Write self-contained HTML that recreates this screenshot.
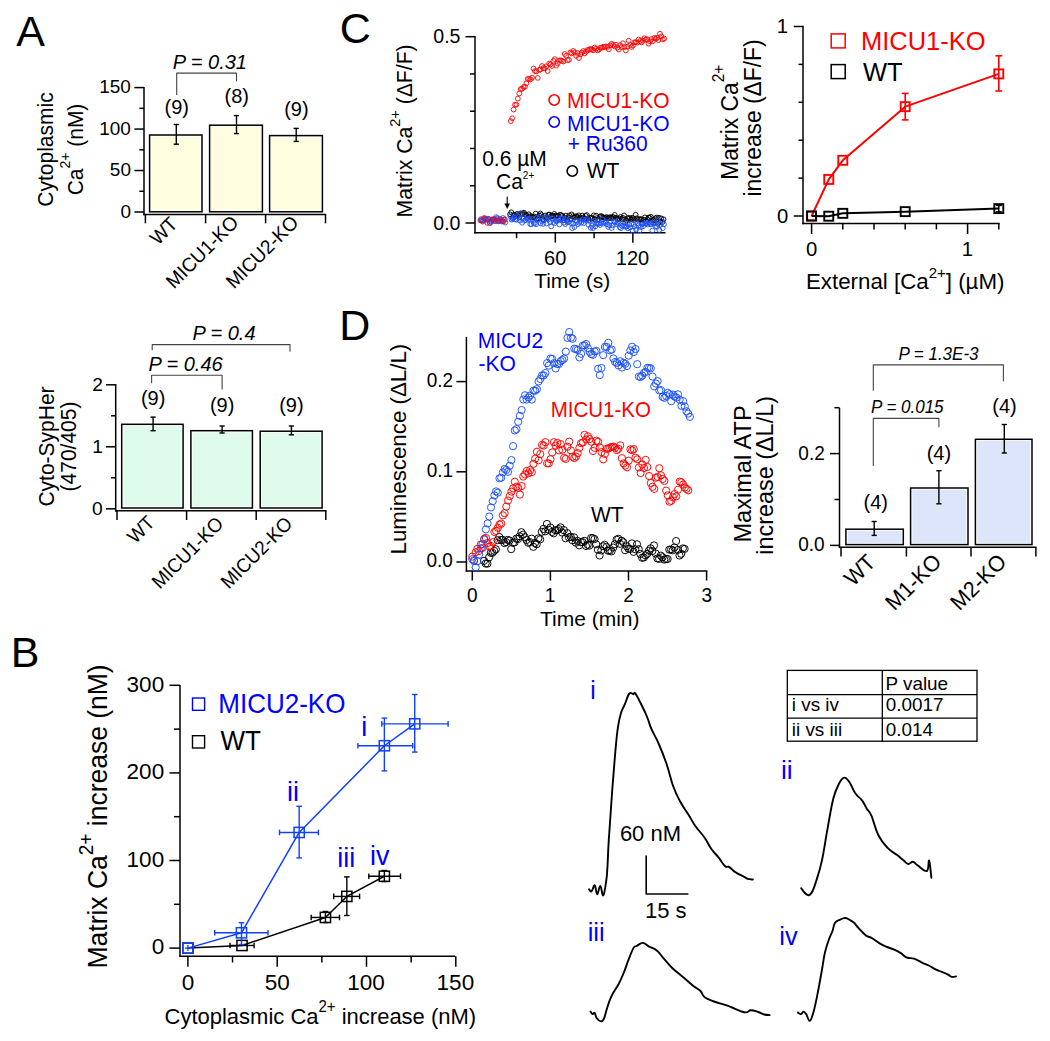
<!DOCTYPE html>
<html><head><meta charset="utf-8"><style>
html,body{margin:0;padding:0;background:#fff;}
svg{display:block;}
text{font-family:"Liberation Sans", sans-serif;}
</style></head><body>
<svg width="1050" height="1041" viewBox="0 0 1050 1041">
<rect width="1050" height="1041" fill="#fff"/>
<text x="-0.08" y="0" font-size="43" fill="#000" transform="translate(16.3 46)">A</text>
<text x="-2.18" y="0" font-size="43" fill="#000" transform="translate(341.8 42.9)">C</text>
<text x="-3.53" y="0" font-size="43" fill="#000" transform="translate(342.7 340.3)">D</text>
<text x="-3.53" y="0" font-size="43" fill="#000" transform="translate(14.3 667.2)">B</text>
<line x1="144" y1="86.9" x2="144" y2="215.3" stroke="#000" stroke-width="1.5"/>
<line x1="134.4" y1="212" x2="144" y2="212" stroke="#000" stroke-width="1.5"/>
<text x="-9.26" y="0" font-size="17.9" fill="#000" transform="translate(130.2 217.5) scale(1.06 1.04)">0</text>
<line x1="134.4" y1="170.53" x2="144" y2="170.53" stroke="#000" stroke-width="1.5"/>
<text x="-19.21" y="0" font-size="17.9" fill="#000" transform="translate(130.2 176.03) scale(1.06 1.04)">50</text>
<line x1="134.4" y1="129.07" x2="144" y2="129.07" stroke="#000" stroke-width="1.5"/>
<text x="-29.17" y="0" font-size="17.9" fill="#000" transform="translate(130.2 134.57) scale(1.06 1.04)">100</text>
<line x1="134.4" y1="87.6" x2="144" y2="87.6" stroke="#000" stroke-width="1.5"/>
<text x="-29.17" y="0" font-size="17.9" fill="#000" transform="translate(130.2 93.1) scale(1.06 1.04)">150</text>
<line x1="139.4" y1="191.27" x2="144" y2="191.27" stroke="#000" stroke-width="1.5"/>
<line x1="139.4" y1="149.8" x2="144" y2="149.8" stroke="#000" stroke-width="1.5"/>
<line x1="139.4" y1="108.34" x2="144" y2="108.34" stroke="#000" stroke-width="1.5"/>
<line x1="143.3" y1="214.6" x2="326.2" y2="214.6" stroke="#000" stroke-width="1.5"/>
<line x1="145.4" y1="214.6" x2="145.4" y2="223.3" stroke="#000" stroke-width="1.5"/>
<line x1="205.6" y1="214.6" x2="205.6" y2="223.3" stroke="#000" stroke-width="1.5"/>
<line x1="265.6" y1="214.6" x2="265.6" y2="223.3" stroke="#000" stroke-width="1.5"/>
<line x1="325.5" y1="214.6" x2="325.5" y2="223.3" stroke="#000" stroke-width="1.5"/>
<rect x="149.6" y="135" width="52.4" height="76.8" fill="#fff" stroke="#000" stroke-width="1.5"/>
<rect x="151.35" y="136.75" width="48.9" height="73.3" fill="#FFFDDF"/>
<rect x="209.6" y="125.2" width="52.8" height="86.6" fill="#fff" stroke="#000" stroke-width="1.5"/>
<rect x="211.35" y="126.95" width="49.3" height="83.1" fill="#FFFDDF"/>
<rect x="269.6" y="135.6" width="52.8" height="76.2" fill="#fff" stroke="#000" stroke-width="1.5"/>
<rect x="271.35" y="137.35" width="49.3" height="72.7" fill="#FFFDDF"/>
<line x1="176.3" y1="124.5" x2="176.3" y2="144.2" stroke="#000" stroke-width="1.4"/>
<line x1="173.7" y1="124.5" x2="178.9" y2="124.5" stroke="#000" stroke-width="1.4"/>
<line x1="173.7" y1="144.2" x2="178.9" y2="144.2" stroke="#000" stroke-width="1.4"/>
<line x1="236.5" y1="115.6" x2="236.5" y2="133.6" stroke="#000" stroke-width="1.4"/>
<line x1="233.9" y1="115.6" x2="239.1" y2="115.6" stroke="#000" stroke-width="1.4"/>
<line x1="233.9" y1="133.6" x2="239.1" y2="133.6" stroke="#000" stroke-width="1.4"/>
<line x1="296.2" y1="128.4" x2="296.2" y2="141.4" stroke="#000" stroke-width="1.4"/>
<line x1="293.6" y1="128.4" x2="298.8" y2="128.4" stroke="#000" stroke-width="1.4"/>
<line x1="293.6" y1="141.4" x2="298.8" y2="141.4" stroke="#000" stroke-width="1.4"/>
<text x="-12.22" y="0" font-size="20" fill="#000" transform="translate(176.7 114) scale(1 1.04)">(9)</text>
<text x="-12.22" y="0" font-size="20" fill="#000" transform="translate(236.7 103) scale(1 1.04)">(8)</text>
<text x="-12.22" y="0" font-size="20" fill="#000" transform="translate(296.4 115.5) scale(1 1.04)">(9)</text>
<polyline points="176.7,95 176.7,73.1 236.5,73.1 236.5,81.2" fill="none" stroke="#444" stroke-width="1.1" stroke-linejoin="round" stroke-linejoin="miter" stroke-linecap="butt"/>
<text x="-0.62" y="0" font-size="20" fill="#000" transform="translate(173.3 68.6) scale(1 1.04)" font-style="italic">P = 0.31</text>
<text x="0" y="0" font-size="21" text-anchor="middle" fill="#000" transform="translate(53 149.5) rotate(-90) scale(1 1.04)"><tspan>Cytoplasmic</tspan></text>
<text x="0" y="0" font-size="21" text-anchor="middle" fill="#000" transform="translate(82.6 149.5) rotate(-90) scale(1 1.04)"><tspan>Ca</tspan><tspan font-size="14" dy="-12">2+</tspan><tspan dy="12"> (nM)</tspan></text>
<text x="-29.1" y="0" font-size="19" fill="#000" transform="translate(178.5 225.5) rotate(-45) scale(1 1.04)">WT</text>
<text x="-91.98" y="0" font-size="19" fill="#000" transform="translate(239 224.5) rotate(-45) scale(1 1.04)">MICU1-KO</text>
<text x="-91.98" y="0" font-size="19" fill="#000" transform="translate(299 224.5) rotate(-45) scale(1 1.04)">MICU2-KO</text>
<line x1="115.7" y1="384.1" x2="115.7" y2="511.6" stroke="#000" stroke-width="1.5"/>
<line x1="106" y1="508.8" x2="115.7" y2="508.8" stroke="#000" stroke-width="1.5"/>
<text x="-9.57" y="0" font-size="18.5" fill="#000" transform="translate(102 514.8) scale(1.04 1.04)">0</text>
<line x1="106" y1="446.8" x2="115.7" y2="446.8" stroke="#000" stroke-width="1.5"/>
<text x="-9.39" y="0" font-size="18.5" fill="#000" transform="translate(102 452.8) scale(1.04 1.04)">1</text>
<line x1="106" y1="384.8" x2="115.7" y2="384.8" stroke="#000" stroke-width="1.5"/>
<text x="-9.36" y="0" font-size="18.5" fill="#000" transform="translate(102 390.8) scale(1.04 1.04)">2</text>
<line x1="111" y1="477.8" x2="115.7" y2="477.8" stroke="#000" stroke-width="1.5"/>
<line x1="111" y1="415.8" x2="115.7" y2="415.8" stroke="#000" stroke-width="1.5"/>
<line x1="115" y1="510.8" x2="326.5" y2="510.8" stroke="#000" stroke-width="1.5"/>
<line x1="117" y1="510.8" x2="117" y2="520" stroke="#000" stroke-width="1.5"/>
<line x1="186.6" y1="510.8" x2="186.6" y2="520" stroke="#000" stroke-width="1.5"/>
<line x1="256.2" y1="510.8" x2="256.2" y2="520" stroke="#000" stroke-width="1.5"/>
<line x1="325.8" y1="510.8" x2="325.8" y2="520" stroke="#000" stroke-width="1.5"/>
<rect x="121.7" y="424.3" width="61.4" height="83.7" fill="#fff" stroke="#000" stroke-width="1.5"/>
<rect x="123.45" y="426.05" width="57.9" height="80.2" fill="#DEFBEC"/>
<rect x="190.9" y="430.7" width="61.5" height="77.3" fill="#fff" stroke="#000" stroke-width="1.5"/>
<rect x="192.65" y="432.45" width="58" height="73.8" fill="#DEFBEC"/>
<rect x="260.2" y="431.2" width="61.9" height="76.8" fill="#fff" stroke="#000" stroke-width="1.5"/>
<rect x="261.95" y="432.95" width="58.4" height="73.3" fill="#DEFBEC"/>
<line x1="153.1" y1="417.1" x2="153.1" y2="430.7" stroke="#000" stroke-width="1.4"/>
<line x1="150.5" y1="417.1" x2="155.7" y2="417.1" stroke="#000" stroke-width="1.4"/>
<line x1="150.5" y1="430.7" x2="155.7" y2="430.7" stroke="#000" stroke-width="1.4"/>
<line x1="222.1" y1="426" x2="222.1" y2="433" stroke="#000" stroke-width="1.4"/>
<line x1="219.5" y1="426" x2="224.7" y2="426" stroke="#000" stroke-width="1.4"/>
<line x1="219.5" y1="433" x2="224.7" y2="433" stroke="#000" stroke-width="1.4"/>
<line x1="291.4" y1="426" x2="291.4" y2="434.8" stroke="#000" stroke-width="1.4"/>
<line x1="288.8" y1="426" x2="294" y2="426" stroke="#000" stroke-width="1.4"/>
<line x1="288.8" y1="434.8" x2="294" y2="434.8" stroke="#000" stroke-width="1.4"/>
<text x="-12.22" y="0" font-size="20" fill="#000" transform="translate(153.1 404.5) scale(1 1.04)">(9)</text>
<text x="-12.22" y="0" font-size="20" fill="#000" transform="translate(222.1 412) scale(1 1.04)">(9)</text>
<text x="-12.22" y="0" font-size="20" fill="#000" transform="translate(291.4 412) scale(1 1.04)">(9)</text>
<polyline points="151.6,383.2 151.6,375.3 222.1,375.3 222.1,389.5" fill="none" stroke="#444" stroke-width="1.1" stroke-linejoin="round" stroke-linejoin="miter" stroke-linecap="butt"/>
<polyline points="152.2,350.3 152.2,344.6 290,344.6 290,351.8" fill="none" stroke="#444" stroke-width="1.1" stroke-linejoin="round" stroke-linejoin="miter" stroke-linecap="butt"/>
<text x="-0.62" y="0" font-size="20" fill="#000" transform="translate(149 371.2) scale(1 1.04)" font-style="italic">P = 0.46</text>
<text x="-0.62" y="0" font-size="20" fill="#000" transform="translate(193 339.6) scale(1 1.04)" font-style="italic">P = 0.4</text>
<text x="0" y="0" font-size="21" text-anchor="middle" fill="#000" transform="translate(54 446.5) rotate(-90) scale(1 1.04)"><tspan>Cyto-SypHer</tspan></text>
<text x="0" y="0" font-size="21" text-anchor="middle" fill="#000" transform="translate(76 446.5) rotate(-90) scale(1 1.04)"><tspan>(470/405)</tspan></text>
<text x="-28.8" y="0" font-size="18.8" fill="#000" transform="translate(155.5 524.2) rotate(-45) scale(1 1.04)">WT</text>
<text x="-91.02" y="0" font-size="18.8" fill="#000" transform="translate(224 525.5) rotate(-45) scale(1 1.04)">MICU1-KO</text>
<text x="-91.02" y="0" font-size="18.8" fill="#000" transform="translate(293 525.5) rotate(-45) scale(1 1.04)">MICU2-KO</text>
<line x1="475" y1="36" x2="475" y2="233.4" stroke="#000" stroke-width="1.5"/>
<line x1="465.5" y1="223" x2="475" y2="223" stroke="#000" stroke-width="1.5"/>
<text x="-26.48" y="0" font-size="19.6" fill="#000" transform="translate(459.7 229.5) scale(1 1.04)">0.0</text>
<line x1="465.5" y1="36.7" x2="475" y2="36.7" stroke="#000" stroke-width="1.5"/>
<text x="-26.42" y="0" font-size="19.6" fill="#000" transform="translate(459.7 43.2) scale(1 1.04)">0.5</text>
<line x1="470" y1="185.74" x2="475" y2="185.74" stroke="#000" stroke-width="1.5"/>
<line x1="470" y1="148.48" x2="475" y2="148.48" stroke="#000" stroke-width="1.5"/>
<line x1="470" y1="111.22" x2="475" y2="111.22" stroke="#000" stroke-width="1.5"/>
<line x1="470" y1="73.96" x2="475" y2="73.96" stroke="#000" stroke-width="1.5"/>
<line x1="474.3" y1="232.7" x2="665.5" y2="232.7" stroke="#000" stroke-width="1.5"/>
<line x1="555.32" y1="232.7" x2="555.32" y2="242.7" stroke="#000" stroke-width="1.5"/>
<text x="-11.24" y="0" font-size="20" fill="#000" transform="translate(555.32 264.7) scale(1 1.04)">60</text>
<line x1="632.84" y1="232.7" x2="632.84" y2="242.7" stroke="#000" stroke-width="1.5"/>
<text x="-17.06" y="0" font-size="20" fill="#000" transform="translate(632.84 264.7) scale(1 1.04)">120</text>
<line x1="516.56" y1="232.7" x2="516.56" y2="238.2" stroke="#000" stroke-width="1.5"/>
<line x1="594.08" y1="232.7" x2="594.08" y2="238.2" stroke="#000" stroke-width="1.5"/>
<text x="-0.47" y="0" font-size="21" fill="#000" transform="translate(534.6 288.1)">Time (s)</text>
<text x="0" y="0" font-size="21.2" text-anchor="start" fill="#000" transform="translate(412 217.4) rotate(-90) scale(1 1.04)"><tspan>Matrix Ca</tspan><tspan font-size="14.5" dy="-11.5">2+</tspan><tspan dy="11.5"> (ΔF/F)</tspan></text>
<circle cx="480.38" cy="220.45" r="2.4" fill="none" stroke="#FF0000" stroke-width="0.9"/>
<circle cx="480.97" cy="219.16" r="2.4" fill="none" stroke="#1A50FF" stroke-width="0.9"/>
<circle cx="481.55" cy="220.4" r="2.4" fill="none" stroke="#FF0000" stroke-width="0.9"/>
<circle cx="482.13" cy="220.55" r="2.4" fill="none" stroke="#1A50FF" stroke-width="0.9"/>
<circle cx="482.71" cy="221.58" r="2.4" fill="none" stroke="#FF0000" stroke-width="0.9"/>
<circle cx="483.29" cy="220.38" r="2.4" fill="none" stroke="#1A50FF" stroke-width="0.9"/>
<circle cx="483.87" cy="218.15" r="2.4" fill="none" stroke="#FF0000" stroke-width="0.9"/>
<circle cx="484.45" cy="219.31" r="2.4" fill="none" stroke="#1A50FF" stroke-width="0.9"/>
<circle cx="485.04" cy="218.28" r="2.4" fill="none" stroke="#FF0000" stroke-width="0.9"/>
<circle cx="485.62" cy="219.6" r="2.4" fill="none" stroke="#1A50FF" stroke-width="0.9"/>
<circle cx="486.2" cy="219.36" r="2.4" fill="none" stroke="#FF0000" stroke-width="0.9"/>
<circle cx="486.78" cy="219.71" r="2.4" fill="none" stroke="#1A50FF" stroke-width="0.9"/>
<circle cx="487.36" cy="222.81" r="2.4" fill="none" stroke="#FF0000" stroke-width="0.9"/>
<circle cx="487.94" cy="218.59" r="2.4" fill="none" stroke="#1A50FF" stroke-width="0.9"/>
<circle cx="488.52" cy="219.17" r="2.4" fill="none" stroke="#FF0000" stroke-width="0.9"/>
<circle cx="489.11" cy="219.18" r="2.4" fill="none" stroke="#1A50FF" stroke-width="0.9"/>
<circle cx="489.69" cy="222.86" r="2.4" fill="none" stroke="#FF0000" stroke-width="0.9"/>
<circle cx="490.27" cy="222.94" r="2.4" fill="none" stroke="#1A50FF" stroke-width="0.9"/>
<circle cx="490.85" cy="221.51" r="2.4" fill="none" stroke="#FF0000" stroke-width="0.9"/>
<circle cx="491.43" cy="220.8" r="2.4" fill="none" stroke="#1A50FF" stroke-width="0.9"/>
<circle cx="492.01" cy="219.51" r="2.4" fill="none" stroke="#FF0000" stroke-width="0.9"/>
<circle cx="492.59" cy="220.1" r="2.4" fill="none" stroke="#1A50FF" stroke-width="0.9"/>
<circle cx="493.17" cy="219.15" r="2.4" fill="none" stroke="#FF0000" stroke-width="0.9"/>
<circle cx="493.76" cy="221.1" r="2.4" fill="none" stroke="#1A50FF" stroke-width="0.9"/>
<circle cx="494.34" cy="219.5" r="2.4" fill="none" stroke="#FF0000" stroke-width="0.9"/>
<circle cx="494.92" cy="219.36" r="2.4" fill="none" stroke="#1A50FF" stroke-width="0.9"/>
<circle cx="495.5" cy="221.13" r="2.4" fill="none" stroke="#FF0000" stroke-width="0.9"/>
<circle cx="496.08" cy="217.14" r="2.4" fill="none" stroke="#1A50FF" stroke-width="0.9"/>
<circle cx="496.66" cy="219.09" r="2.4" fill="none" stroke="#FF0000" stroke-width="0.9"/>
<circle cx="497.24" cy="218.01" r="2.4" fill="none" stroke="#1A50FF" stroke-width="0.9"/>
<circle cx="497.83" cy="221.06" r="2.4" fill="none" stroke="#FF0000" stroke-width="0.9"/>
<circle cx="498.41" cy="221.26" r="2.4" fill="none" stroke="#1A50FF" stroke-width="0.9"/>
<circle cx="498.99" cy="220.6" r="2.4" fill="none" stroke="#FF0000" stroke-width="0.9"/>
<circle cx="499.57" cy="220.2" r="2.4" fill="none" stroke="#1A50FF" stroke-width="0.9"/>
<circle cx="500.15" cy="218.96" r="2.4" fill="none" stroke="#FF0000" stroke-width="0.9"/>
<circle cx="500.73" cy="219.6" r="2.4" fill="none" stroke="#1A50FF" stroke-width="0.9"/>
<circle cx="501.31" cy="220.77" r="2.4" fill="none" stroke="#FF0000" stroke-width="0.9"/>
<circle cx="501.9" cy="221.62" r="2.4" fill="none" stroke="#1A50FF" stroke-width="0.9"/>
<circle cx="502.48" cy="220.89" r="2.4" fill="none" stroke="#FF0000" stroke-width="0.9"/>
<circle cx="503.06" cy="217.97" r="2.4" fill="none" stroke="#1A50FF" stroke-width="0.9"/>
<circle cx="503.64" cy="221.37" r="2.4" fill="none" stroke="#FF0000" stroke-width="0.9"/>
<circle cx="504.22" cy="219.61" r="2.4" fill="none" stroke="#1A50FF" stroke-width="0.9"/>
<circle cx="504.8" cy="219.3" r="2.4" fill="none" stroke="#FF0000" stroke-width="0.9"/>
<circle cx="505.38" cy="222.52" r="2.4" fill="none" stroke="#1A50FF" stroke-width="0.9"/>
<circle cx="510.1" cy="214.35" r="2.4" fill="none" stroke="#000" stroke-width="0.9"/>
<circle cx="511.26" cy="212.3" r="2.4" fill="none" stroke="#000" stroke-width="0.9"/>
<circle cx="512.43" cy="217.92" r="2.4" fill="none" stroke="#000" stroke-width="0.9"/>
<circle cx="513.59" cy="215.14" r="2.4" fill="none" stroke="#000" stroke-width="0.9"/>
<circle cx="514.75" cy="214.84" r="2.4" fill="none" stroke="#000" stroke-width="0.9"/>
<circle cx="515.91" cy="216.09" r="2.4" fill="none" stroke="#000" stroke-width="0.9"/>
<circle cx="517.08" cy="213.94" r="2.4" fill="none" stroke="#000" stroke-width="0.9"/>
<circle cx="518.24" cy="214.94" r="2.4" fill="none" stroke="#000" stroke-width="0.9"/>
<circle cx="519.4" cy="217.35" r="2.4" fill="none" stroke="#000" stroke-width="0.9"/>
<circle cx="520.57" cy="213.56" r="2.4" fill="none" stroke="#000" stroke-width="0.9"/>
<circle cx="521.73" cy="213.88" r="2.4" fill="none" stroke="#000" stroke-width="0.9"/>
<circle cx="522.89" cy="213.48" r="2.4" fill="none" stroke="#000" stroke-width="0.9"/>
<circle cx="524.05" cy="212.7" r="2.4" fill="none" stroke="#000" stroke-width="0.9"/>
<circle cx="525.22" cy="214.57" r="2.4" fill="none" stroke="#000" stroke-width="0.9"/>
<circle cx="526.38" cy="215.04" r="2.4" fill="none" stroke="#000" stroke-width="0.9"/>
<circle cx="527.54" cy="217.47" r="2.4" fill="none" stroke="#000" stroke-width="0.9"/>
<circle cx="528.7" cy="214.32" r="2.4" fill="none" stroke="#000" stroke-width="0.9"/>
<circle cx="529.87" cy="216.43" r="2.4" fill="none" stroke="#000" stroke-width="0.9"/>
<circle cx="531.03" cy="216.22" r="2.4" fill="none" stroke="#000" stroke-width="0.9"/>
<circle cx="532.19" cy="217.64" r="2.4" fill="none" stroke="#000" stroke-width="0.9"/>
<circle cx="533.36" cy="217.2" r="2.4" fill="none" stroke="#000" stroke-width="0.9"/>
<circle cx="534.52" cy="216.53" r="2.4" fill="none" stroke="#000" stroke-width="0.9"/>
<circle cx="535.68" cy="213.53" r="2.4" fill="none" stroke="#000" stroke-width="0.9"/>
<circle cx="536.84" cy="219.16" r="2.4" fill="none" stroke="#000" stroke-width="0.9"/>
<circle cx="538.01" cy="218.25" r="2.4" fill="none" stroke="#000" stroke-width="0.9"/>
<circle cx="539.17" cy="215.47" r="2.4" fill="none" stroke="#000" stroke-width="0.9"/>
<circle cx="540.33" cy="213.5" r="2.4" fill="none" stroke="#000" stroke-width="0.9"/>
<circle cx="541.5" cy="215.01" r="2.4" fill="none" stroke="#000" stroke-width="0.9"/>
<circle cx="542.66" cy="219.23" r="2.4" fill="none" stroke="#000" stroke-width="0.9"/>
<circle cx="543.82" cy="220.32" r="2.4" fill="none" stroke="#000" stroke-width="0.9"/>
<circle cx="544.98" cy="215.56" r="2.4" fill="none" stroke="#000" stroke-width="0.9"/>
<circle cx="546.15" cy="217.45" r="2.4" fill="none" stroke="#000" stroke-width="0.9"/>
<circle cx="547.31" cy="218.15" r="2.4" fill="none" stroke="#000" stroke-width="0.9"/>
<circle cx="548.47" cy="214.69" r="2.4" fill="none" stroke="#000" stroke-width="0.9"/>
<circle cx="549.64" cy="214.54" r="2.4" fill="none" stroke="#000" stroke-width="0.9"/>
<circle cx="550.8" cy="216.18" r="2.4" fill="none" stroke="#000" stroke-width="0.9"/>
<circle cx="551.96" cy="216.09" r="2.4" fill="none" stroke="#000" stroke-width="0.9"/>
<circle cx="553.12" cy="215.83" r="2.4" fill="none" stroke="#000" stroke-width="0.9"/>
<circle cx="554.29" cy="213.94" r="2.4" fill="none" stroke="#000" stroke-width="0.9"/>
<circle cx="555.45" cy="215.63" r="2.4" fill="none" stroke="#000" stroke-width="0.9"/>
<circle cx="556.61" cy="215.83" r="2.4" fill="none" stroke="#000" stroke-width="0.9"/>
<circle cx="557.77" cy="215.81" r="2.4" fill="none" stroke="#000" stroke-width="0.9"/>
<circle cx="558.94" cy="219.39" r="2.4" fill="none" stroke="#000" stroke-width="0.9"/>
<circle cx="560.1" cy="214.65" r="2.4" fill="none" stroke="#000" stroke-width="0.9"/>
<circle cx="561.26" cy="215.23" r="2.4" fill="none" stroke="#000" stroke-width="0.9"/>
<circle cx="562.43" cy="215.97" r="2.4" fill="none" stroke="#000" stroke-width="0.9"/>
<circle cx="563.59" cy="220.2" r="2.4" fill="none" stroke="#000" stroke-width="0.9"/>
<circle cx="564.75" cy="217.98" r="2.4" fill="none" stroke="#000" stroke-width="0.9"/>
<circle cx="565.91" cy="215.54" r="2.4" fill="none" stroke="#000" stroke-width="0.9"/>
<circle cx="567.08" cy="220.02" r="2.4" fill="none" stroke="#000" stroke-width="0.9"/>
<circle cx="568.24" cy="217.33" r="2.4" fill="none" stroke="#000" stroke-width="0.9"/>
<circle cx="569.4" cy="215.34" r="2.4" fill="none" stroke="#000" stroke-width="0.9"/>
<circle cx="570.57" cy="219.28" r="2.4" fill="none" stroke="#000" stroke-width="0.9"/>
<circle cx="571.73" cy="214.41" r="2.4" fill="none" stroke="#000" stroke-width="0.9"/>
<circle cx="572.89" cy="216.22" r="2.4" fill="none" stroke="#000" stroke-width="0.9"/>
<circle cx="574.05" cy="217.43" r="2.4" fill="none" stroke="#000" stroke-width="0.9"/>
<circle cx="575.22" cy="216.66" r="2.4" fill="none" stroke="#000" stroke-width="0.9"/>
<circle cx="576.38" cy="216.15" r="2.4" fill="none" stroke="#000" stroke-width="0.9"/>
<circle cx="577.54" cy="217.07" r="2.4" fill="none" stroke="#000" stroke-width="0.9"/>
<circle cx="578.71" cy="215.38" r="2.4" fill="none" stroke="#000" stroke-width="0.9"/>
<circle cx="579.87" cy="218.44" r="2.4" fill="none" stroke="#000" stroke-width="0.9"/>
<circle cx="581.03" cy="218.06" r="2.4" fill="none" stroke="#000" stroke-width="0.9"/>
<circle cx="582.19" cy="215.65" r="2.4" fill="none" stroke="#000" stroke-width="0.9"/>
<circle cx="583.36" cy="217.38" r="2.4" fill="none" stroke="#000" stroke-width="0.9"/>
<circle cx="584.52" cy="218.93" r="2.4" fill="none" stroke="#000" stroke-width="0.9"/>
<circle cx="585.68" cy="215.9" r="2.4" fill="none" stroke="#000" stroke-width="0.9"/>
<circle cx="586.84" cy="215.06" r="2.4" fill="none" stroke="#000" stroke-width="0.9"/>
<circle cx="588.01" cy="218.3" r="2.4" fill="none" stroke="#000" stroke-width="0.9"/>
<circle cx="589.17" cy="219.9" r="2.4" fill="none" stroke="#000" stroke-width="0.9"/>
<circle cx="590.33" cy="217.84" r="2.4" fill="none" stroke="#000" stroke-width="0.9"/>
<circle cx="591.5" cy="217.9" r="2.4" fill="none" stroke="#000" stroke-width="0.9"/>
<circle cx="592.66" cy="218.18" r="2.4" fill="none" stroke="#000" stroke-width="0.9"/>
<circle cx="593.82" cy="215.36" r="2.4" fill="none" stroke="#000" stroke-width="0.9"/>
<circle cx="594.98" cy="219.46" r="2.4" fill="none" stroke="#000" stroke-width="0.9"/>
<circle cx="596.15" cy="215.66" r="2.4" fill="none" stroke="#000" stroke-width="0.9"/>
<circle cx="597.31" cy="219.93" r="2.4" fill="none" stroke="#000" stroke-width="0.9"/>
<circle cx="598.47" cy="219.16" r="2.4" fill="none" stroke="#000" stroke-width="0.9"/>
<circle cx="599.64" cy="216.81" r="2.4" fill="none" stroke="#000" stroke-width="0.9"/>
<circle cx="600.8" cy="216.01" r="2.4" fill="none" stroke="#000" stroke-width="0.9"/>
<circle cx="601.96" cy="216.49" r="2.4" fill="none" stroke="#000" stroke-width="0.9"/>
<circle cx="603.12" cy="217.38" r="2.4" fill="none" stroke="#000" stroke-width="0.9"/>
<circle cx="604.29" cy="217.76" r="2.4" fill="none" stroke="#000" stroke-width="0.9"/>
<circle cx="605.45" cy="217.77" r="2.4" fill="none" stroke="#000" stroke-width="0.9"/>
<circle cx="606.61" cy="217.09" r="2.4" fill="none" stroke="#000" stroke-width="0.9"/>
<circle cx="607.78" cy="218.39" r="2.4" fill="none" stroke="#000" stroke-width="0.9"/>
<circle cx="608.94" cy="217.66" r="2.4" fill="none" stroke="#000" stroke-width="0.9"/>
<circle cx="610.1" cy="217.19" r="2.4" fill="none" stroke="#000" stroke-width="0.9"/>
<circle cx="611.26" cy="218.18" r="2.4" fill="none" stroke="#000" stroke-width="0.9"/>
<circle cx="612.43" cy="216.93" r="2.4" fill="none" stroke="#000" stroke-width="0.9"/>
<circle cx="613.59" cy="217.3" r="2.4" fill="none" stroke="#000" stroke-width="0.9"/>
<circle cx="614.75" cy="214.91" r="2.4" fill="none" stroke="#000" stroke-width="0.9"/>
<circle cx="615.91" cy="217.77" r="2.4" fill="none" stroke="#000" stroke-width="0.9"/>
<circle cx="617.08" cy="219.06" r="2.4" fill="none" stroke="#000" stroke-width="0.9"/>
<circle cx="618.24" cy="219" r="2.4" fill="none" stroke="#000" stroke-width="0.9"/>
<circle cx="619.4" cy="218.43" r="2.4" fill="none" stroke="#000" stroke-width="0.9"/>
<circle cx="620.57" cy="216.89" r="2.4" fill="none" stroke="#000" stroke-width="0.9"/>
<circle cx="621.73" cy="219.03" r="2.4" fill="none" stroke="#000" stroke-width="0.9"/>
<circle cx="622.89" cy="217.85" r="2.4" fill="none" stroke="#000" stroke-width="0.9"/>
<circle cx="624.05" cy="215.45" r="2.4" fill="none" stroke="#000" stroke-width="0.9"/>
<circle cx="625.22" cy="222.86" r="2.4" fill="none" stroke="#000" stroke-width="0.9"/>
<circle cx="626.38" cy="220.48" r="2.4" fill="none" stroke="#000" stroke-width="0.9"/>
<circle cx="627.54" cy="218.22" r="2.4" fill="none" stroke="#000" stroke-width="0.9"/>
<circle cx="628.71" cy="217.99" r="2.4" fill="none" stroke="#000" stroke-width="0.9"/>
<circle cx="629.87" cy="218.29" r="2.4" fill="none" stroke="#000" stroke-width="0.9"/>
<circle cx="631.03" cy="219.44" r="2.4" fill="none" stroke="#000" stroke-width="0.9"/>
<circle cx="632.19" cy="217.65" r="2.4" fill="none" stroke="#000" stroke-width="0.9"/>
<circle cx="633.36" cy="218.31" r="2.4" fill="none" stroke="#000" stroke-width="0.9"/>
<circle cx="634.52" cy="219.69" r="2.4" fill="none" stroke="#000" stroke-width="0.9"/>
<circle cx="635.68" cy="214.77" r="2.4" fill="none" stroke="#000" stroke-width="0.9"/>
<circle cx="636.85" cy="218.28" r="2.4" fill="none" stroke="#000" stroke-width="0.9"/>
<circle cx="638.01" cy="219.84" r="2.4" fill="none" stroke="#000" stroke-width="0.9"/>
<circle cx="639.17" cy="219.11" r="2.4" fill="none" stroke="#000" stroke-width="0.9"/>
<circle cx="640.33" cy="219.35" r="2.4" fill="none" stroke="#000" stroke-width="0.9"/>
<circle cx="641.5" cy="219.11" r="2.4" fill="none" stroke="#000" stroke-width="0.9"/>
<circle cx="642.66" cy="223.61" r="2.4" fill="none" stroke="#000" stroke-width="0.9"/>
<circle cx="643.82" cy="219.88" r="2.4" fill="none" stroke="#000" stroke-width="0.9"/>
<circle cx="644.98" cy="217.41" r="2.4" fill="none" stroke="#000" stroke-width="0.9"/>
<circle cx="646.15" cy="221.09" r="2.4" fill="none" stroke="#000" stroke-width="0.9"/>
<circle cx="647.31" cy="219.27" r="2.4" fill="none" stroke="#000" stroke-width="0.9"/>
<circle cx="648.47" cy="217.6" r="2.4" fill="none" stroke="#000" stroke-width="0.9"/>
<circle cx="649.64" cy="217.79" r="2.4" fill="none" stroke="#000" stroke-width="0.9"/>
<circle cx="650.8" cy="216.76" r="2.4" fill="none" stroke="#000" stroke-width="0.9"/>
<circle cx="651.96" cy="222.14" r="2.4" fill="none" stroke="#000" stroke-width="0.9"/>
<circle cx="653.12" cy="219.91" r="2.4" fill="none" stroke="#000" stroke-width="0.9"/>
<circle cx="654.29" cy="219.92" r="2.4" fill="none" stroke="#000" stroke-width="0.9"/>
<circle cx="655.45" cy="218.34" r="2.4" fill="none" stroke="#000" stroke-width="0.9"/>
<circle cx="656.61" cy="217.58" r="2.4" fill="none" stroke="#000" stroke-width="0.9"/>
<circle cx="657.78" cy="223.95" r="2.4" fill="none" stroke="#000" stroke-width="0.9"/>
<circle cx="658.94" cy="217.65" r="2.4" fill="none" stroke="#000" stroke-width="0.9"/>
<circle cx="660.1" cy="221.94" r="2.4" fill="none" stroke="#000" stroke-width="0.9"/>
<circle cx="661.26" cy="218.4" r="2.4" fill="none" stroke="#000" stroke-width="0.9"/>
<circle cx="662.43" cy="222.07" r="2.4" fill="none" stroke="#000" stroke-width="0.9"/>
<circle cx="663.59" cy="219.31" r="2.4" fill="none" stroke="#000" stroke-width="0.9"/>
<circle cx="510.49" cy="216.4" r="2.4" fill="none" stroke="#1A50FF" stroke-width="0.9"/>
<circle cx="511.65" cy="219.73" r="2.4" fill="none" stroke="#1A50FF" stroke-width="0.9"/>
<circle cx="512.81" cy="218.97" r="2.4" fill="none" stroke="#1A50FF" stroke-width="0.9"/>
<circle cx="513.98" cy="217.57" r="2.4" fill="none" stroke="#1A50FF" stroke-width="0.9"/>
<circle cx="515.14" cy="219.22" r="2.4" fill="none" stroke="#1A50FF" stroke-width="0.9"/>
<circle cx="516.3" cy="219.85" r="2.4" fill="none" stroke="#1A50FF" stroke-width="0.9"/>
<circle cx="517.46" cy="215.99" r="2.4" fill="none" stroke="#1A50FF" stroke-width="0.9"/>
<circle cx="518.63" cy="217.23" r="2.4" fill="none" stroke="#1A50FF" stroke-width="0.9"/>
<circle cx="519.79" cy="220.54" r="2.4" fill="none" stroke="#1A50FF" stroke-width="0.9"/>
<circle cx="520.95" cy="213.25" r="2.4" fill="none" stroke="#1A50FF" stroke-width="0.9"/>
<circle cx="522.12" cy="222.74" r="2.4" fill="none" stroke="#1A50FF" stroke-width="0.9"/>
<circle cx="523.28" cy="217.82" r="2.4" fill="none" stroke="#1A50FF" stroke-width="0.9"/>
<circle cx="524.44" cy="220.74" r="2.4" fill="none" stroke="#1A50FF" stroke-width="0.9"/>
<circle cx="525.6" cy="219.85" r="2.4" fill="none" stroke="#1A50FF" stroke-width="0.9"/>
<circle cx="526.77" cy="218.53" r="2.4" fill="none" stroke="#1A50FF" stroke-width="0.9"/>
<circle cx="527.93" cy="219.76" r="2.4" fill="none" stroke="#1A50FF" stroke-width="0.9"/>
<circle cx="529.09" cy="218.82" r="2.4" fill="none" stroke="#1A50FF" stroke-width="0.9"/>
<circle cx="530.26" cy="224.14" r="2.4" fill="none" stroke="#1A50FF" stroke-width="0.9"/>
<circle cx="531.42" cy="224.16" r="2.4" fill="none" stroke="#1A50FF" stroke-width="0.9"/>
<circle cx="532.58" cy="219.08" r="2.4" fill="none" stroke="#1A50FF" stroke-width="0.9"/>
<circle cx="533.74" cy="222.97" r="2.4" fill="none" stroke="#1A50FF" stroke-width="0.9"/>
<circle cx="534.91" cy="223.19" r="2.4" fill="none" stroke="#1A50FF" stroke-width="0.9"/>
<circle cx="536.07" cy="224.33" r="2.4" fill="none" stroke="#1A50FF" stroke-width="0.9"/>
<circle cx="537.23" cy="217.77" r="2.4" fill="none" stroke="#1A50FF" stroke-width="0.9"/>
<circle cx="538.39" cy="219.1" r="2.4" fill="none" stroke="#1A50FF" stroke-width="0.9"/>
<circle cx="539.56" cy="217.41" r="2.4" fill="none" stroke="#1A50FF" stroke-width="0.9"/>
<circle cx="540.72" cy="223.31" r="2.4" fill="none" stroke="#1A50FF" stroke-width="0.9"/>
<circle cx="541.88" cy="221.1" r="2.4" fill="none" stroke="#1A50FF" stroke-width="0.9"/>
<circle cx="543.05" cy="223.94" r="2.4" fill="none" stroke="#1A50FF" stroke-width="0.9"/>
<circle cx="544.21" cy="219.39" r="2.4" fill="none" stroke="#1A50FF" stroke-width="0.9"/>
<circle cx="545.37" cy="217.46" r="2.4" fill="none" stroke="#1A50FF" stroke-width="0.9"/>
<circle cx="546.53" cy="223.53" r="2.4" fill="none" stroke="#1A50FF" stroke-width="0.9"/>
<circle cx="547.7" cy="217.66" r="2.4" fill="none" stroke="#1A50FF" stroke-width="0.9"/>
<circle cx="548.86" cy="219.12" r="2.4" fill="none" stroke="#1A50FF" stroke-width="0.9"/>
<circle cx="550.02" cy="222.01" r="2.4" fill="none" stroke="#1A50FF" stroke-width="0.9"/>
<circle cx="551.19" cy="226.42" r="2.4" fill="none" stroke="#1A50FF" stroke-width="0.9"/>
<circle cx="552.35" cy="218.3" r="2.4" fill="none" stroke="#1A50FF" stroke-width="0.9"/>
<circle cx="553.51" cy="222.01" r="2.4" fill="none" stroke="#1A50FF" stroke-width="0.9"/>
<circle cx="554.67" cy="223.3" r="2.4" fill="none" stroke="#1A50FF" stroke-width="0.9"/>
<circle cx="555.84" cy="220.93" r="2.4" fill="none" stroke="#1A50FF" stroke-width="0.9"/>
<circle cx="557" cy="220.95" r="2.4" fill="none" stroke="#1A50FF" stroke-width="0.9"/>
<circle cx="558.16" cy="218.36" r="2.4" fill="none" stroke="#1A50FF" stroke-width="0.9"/>
<circle cx="559.33" cy="224.5" r="2.4" fill="none" stroke="#1A50FF" stroke-width="0.9"/>
<circle cx="560.49" cy="219.32" r="2.4" fill="none" stroke="#1A50FF" stroke-width="0.9"/>
<circle cx="561.65" cy="218.52" r="2.4" fill="none" stroke="#1A50FF" stroke-width="0.9"/>
<circle cx="562.81" cy="218.64" r="2.4" fill="none" stroke="#1A50FF" stroke-width="0.9"/>
<circle cx="563.98" cy="222.64" r="2.4" fill="none" stroke="#1A50FF" stroke-width="0.9"/>
<circle cx="565.14" cy="224.05" r="2.4" fill="none" stroke="#1A50FF" stroke-width="0.9"/>
<circle cx="566.3" cy="219.83" r="2.4" fill="none" stroke="#1A50FF" stroke-width="0.9"/>
<circle cx="567.46" cy="222.06" r="2.4" fill="none" stroke="#1A50FF" stroke-width="0.9"/>
<circle cx="568.63" cy="222.08" r="2.4" fill="none" stroke="#1A50FF" stroke-width="0.9"/>
<circle cx="569.79" cy="218.97" r="2.4" fill="none" stroke="#1A50FF" stroke-width="0.9"/>
<circle cx="570.95" cy="223.1" r="2.4" fill="none" stroke="#1A50FF" stroke-width="0.9"/>
<circle cx="572.12" cy="228.07" r="2.4" fill="none" stroke="#1A50FF" stroke-width="0.9"/>
<circle cx="573.28" cy="223.49" r="2.4" fill="none" stroke="#1A50FF" stroke-width="0.9"/>
<circle cx="574.44" cy="227.09" r="2.4" fill="none" stroke="#1A50FF" stroke-width="0.9"/>
<circle cx="575.6" cy="220.66" r="2.4" fill="none" stroke="#1A50FF" stroke-width="0.9"/>
<circle cx="576.77" cy="221.91" r="2.4" fill="none" stroke="#1A50FF" stroke-width="0.9"/>
<circle cx="577.93" cy="224.21" r="2.4" fill="none" stroke="#1A50FF" stroke-width="0.9"/>
<circle cx="579.09" cy="222.79" r="2.4" fill="none" stroke="#1A50FF" stroke-width="0.9"/>
<circle cx="580.26" cy="220.8" r="2.4" fill="none" stroke="#1A50FF" stroke-width="0.9"/>
<circle cx="581.42" cy="222.67" r="2.4" fill="none" stroke="#1A50FF" stroke-width="0.9"/>
<circle cx="582.58" cy="219.69" r="2.4" fill="none" stroke="#1A50FF" stroke-width="0.9"/>
<circle cx="583.74" cy="223.09" r="2.4" fill="none" stroke="#1A50FF" stroke-width="0.9"/>
<circle cx="584.91" cy="220.47" r="2.4" fill="none" stroke="#1A50FF" stroke-width="0.9"/>
<circle cx="586.07" cy="219.42" r="2.4" fill="none" stroke="#1A50FF" stroke-width="0.9"/>
<circle cx="587.23" cy="219.17" r="2.4" fill="none" stroke="#1A50FF" stroke-width="0.9"/>
<circle cx="588.4" cy="224.74" r="2.4" fill="none" stroke="#1A50FF" stroke-width="0.9"/>
<circle cx="589.56" cy="221.03" r="2.4" fill="none" stroke="#1A50FF" stroke-width="0.9"/>
<circle cx="590.72" cy="227.75" r="2.4" fill="none" stroke="#1A50FF" stroke-width="0.9"/>
<circle cx="591.88" cy="225.87" r="2.4" fill="none" stroke="#1A50FF" stroke-width="0.9"/>
<circle cx="593.05" cy="228.04" r="2.4" fill="none" stroke="#1A50FF" stroke-width="0.9"/>
<circle cx="594.21" cy="220.74" r="2.4" fill="none" stroke="#1A50FF" stroke-width="0.9"/>
<circle cx="595.37" cy="226.36" r="2.4" fill="none" stroke="#1A50FF" stroke-width="0.9"/>
<circle cx="596.53" cy="223.45" r="2.4" fill="none" stroke="#1A50FF" stroke-width="0.9"/>
<circle cx="597.7" cy="223.93" r="2.4" fill="none" stroke="#1A50FF" stroke-width="0.9"/>
<circle cx="598.86" cy="223.58" r="2.4" fill="none" stroke="#1A50FF" stroke-width="0.9"/>
<circle cx="600.02" cy="224.98" r="2.4" fill="none" stroke="#1A50FF" stroke-width="0.9"/>
<circle cx="601.19" cy="223.03" r="2.4" fill="none" stroke="#1A50FF" stroke-width="0.9"/>
<circle cx="602.35" cy="219.3" r="2.4" fill="none" stroke="#1A50FF" stroke-width="0.9"/>
<circle cx="603.51" cy="223.57" r="2.4" fill="none" stroke="#1A50FF" stroke-width="0.9"/>
<circle cx="604.67" cy="222.44" r="2.4" fill="none" stroke="#1A50FF" stroke-width="0.9"/>
<circle cx="605.84" cy="221.34" r="2.4" fill="none" stroke="#1A50FF" stroke-width="0.9"/>
<circle cx="607" cy="224.29" r="2.4" fill="none" stroke="#1A50FF" stroke-width="0.9"/>
<circle cx="608.16" cy="226.91" r="2.4" fill="none" stroke="#1A50FF" stroke-width="0.9"/>
<circle cx="609.33" cy="225.24" r="2.4" fill="none" stroke="#1A50FF" stroke-width="0.9"/>
<circle cx="610.49" cy="221.34" r="2.4" fill="none" stroke="#1A50FF" stroke-width="0.9"/>
<circle cx="611.65" cy="227.97" r="2.4" fill="none" stroke="#1A50FF" stroke-width="0.9"/>
<circle cx="612.81" cy="225.48" r="2.4" fill="none" stroke="#1A50FF" stroke-width="0.9"/>
<circle cx="613.98" cy="221.63" r="2.4" fill="none" stroke="#1A50FF" stroke-width="0.9"/>
<circle cx="615.14" cy="222.19" r="2.4" fill="none" stroke="#1A50FF" stroke-width="0.9"/>
<circle cx="616.3" cy="224.14" r="2.4" fill="none" stroke="#1A50FF" stroke-width="0.9"/>
<circle cx="617.47" cy="222.25" r="2.4" fill="none" stroke="#1A50FF" stroke-width="0.9"/>
<circle cx="618.63" cy="223.84" r="2.4" fill="none" stroke="#1A50FF" stroke-width="0.9"/>
<circle cx="619.79" cy="227.14" r="2.4" fill="none" stroke="#1A50FF" stroke-width="0.9"/>
<circle cx="620.95" cy="228.12" r="2.4" fill="none" stroke="#1A50FF" stroke-width="0.9"/>
<circle cx="622.12" cy="225.92" r="2.4" fill="none" stroke="#1A50FF" stroke-width="0.9"/>
<circle cx="623.28" cy="222.18" r="2.4" fill="none" stroke="#1A50FF" stroke-width="0.9"/>
<circle cx="624.44" cy="225.83" r="2.4" fill="none" stroke="#1A50FF" stroke-width="0.9"/>
<circle cx="625.6" cy="226.69" r="2.4" fill="none" stroke="#1A50FF" stroke-width="0.9"/>
<circle cx="626.77" cy="226.42" r="2.4" fill="none" stroke="#1A50FF" stroke-width="0.9"/>
<circle cx="627.93" cy="228.3" r="2.4" fill="none" stroke="#1A50FF" stroke-width="0.9"/>
<circle cx="629.09" cy="224.92" r="2.4" fill="none" stroke="#1A50FF" stroke-width="0.9"/>
<circle cx="630.26" cy="227.54" r="2.4" fill="none" stroke="#1A50FF" stroke-width="0.9"/>
<circle cx="631.42" cy="223.84" r="2.4" fill="none" stroke="#1A50FF" stroke-width="0.9"/>
<circle cx="632.58" cy="230.48" r="2.4" fill="none" stroke="#1A50FF" stroke-width="0.9"/>
<circle cx="633.74" cy="224.02" r="2.4" fill="none" stroke="#1A50FF" stroke-width="0.9"/>
<circle cx="634.91" cy="226.41" r="2.4" fill="none" stroke="#1A50FF" stroke-width="0.9"/>
<circle cx="636.07" cy="229.6" r="2.4" fill="none" stroke="#1A50FF" stroke-width="0.9"/>
<circle cx="637.23" cy="223.18" r="2.4" fill="none" stroke="#1A50FF" stroke-width="0.9"/>
<circle cx="638.4" cy="225.65" r="2.4" fill="none" stroke="#1A50FF" stroke-width="0.9"/>
<circle cx="639.56" cy="230.43" r="2.4" fill="none" stroke="#1A50FF" stroke-width="0.9"/>
<circle cx="640.72" cy="227.19" r="2.4" fill="none" stroke="#1A50FF" stroke-width="0.9"/>
<circle cx="641.88" cy="224.41" r="2.4" fill="none" stroke="#1A50FF" stroke-width="0.9"/>
<circle cx="643.05" cy="226.27" r="2.4" fill="none" stroke="#1A50FF" stroke-width="0.9"/>
<circle cx="644.21" cy="223.31" r="2.4" fill="none" stroke="#1A50FF" stroke-width="0.9"/>
<circle cx="645.37" cy="223.43" r="2.4" fill="none" stroke="#1A50FF" stroke-width="0.9"/>
<circle cx="646.54" cy="223.67" r="2.4" fill="none" stroke="#1A50FF" stroke-width="0.9"/>
<circle cx="647.7" cy="224.54" r="2.4" fill="none" stroke="#1A50FF" stroke-width="0.9"/>
<circle cx="648.86" cy="222.14" r="2.4" fill="none" stroke="#1A50FF" stroke-width="0.9"/>
<circle cx="650.02" cy="223.82" r="2.4" fill="none" stroke="#1A50FF" stroke-width="0.9"/>
<circle cx="651.19" cy="224.37" r="2.4" fill="none" stroke="#1A50FF" stroke-width="0.9"/>
<circle cx="652.35" cy="230.55" r="2.4" fill="none" stroke="#1A50FF" stroke-width="0.9"/>
<circle cx="653.51" cy="223.38" r="2.4" fill="none" stroke="#1A50FF" stroke-width="0.9"/>
<circle cx="654.67" cy="222.42" r="2.4" fill="none" stroke="#1A50FF" stroke-width="0.9"/>
<circle cx="655.84" cy="226.35" r="2.4" fill="none" stroke="#1A50FF" stroke-width="0.9"/>
<circle cx="657" cy="226.81" r="2.4" fill="none" stroke="#1A50FF" stroke-width="0.9"/>
<circle cx="658.16" cy="221.02" r="2.4" fill="none" stroke="#1A50FF" stroke-width="0.9"/>
<circle cx="659.33" cy="230.02" r="2.4" fill="none" stroke="#1A50FF" stroke-width="0.9"/>
<circle cx="660.49" cy="224.67" r="2.4" fill="none" stroke="#1A50FF" stroke-width="0.9"/>
<circle cx="661.65" cy="219.98" r="2.4" fill="none" stroke="#1A50FF" stroke-width="0.9"/>
<circle cx="662.81" cy="228.14" r="2.4" fill="none" stroke="#1A50FF" stroke-width="0.9"/>
<circle cx="663.98" cy="224.27" r="2.4" fill="none" stroke="#1A50FF" stroke-width="0.9"/>
<circle cx="510.75" cy="121.16" r="2.4" fill="none" stroke="#FF0000" stroke-width="0.9"/>
<circle cx="512.17" cy="118.23" r="2.4" fill="none" stroke="#FF0000" stroke-width="0.9"/>
<circle cx="513.59" cy="109.59" r="2.4" fill="none" stroke="#FF0000" stroke-width="0.9"/>
<circle cx="515.01" cy="104.73" r="2.4" fill="none" stroke="#FF0000" stroke-width="0.9"/>
<circle cx="516.43" cy="104.68" r="2.4" fill="none" stroke="#FF0000" stroke-width="0.9"/>
<circle cx="517.85" cy="98.61" r="2.4" fill="none" stroke="#FF0000" stroke-width="0.9"/>
<circle cx="519.27" cy="93.51" r="2.4" fill="none" stroke="#FF0000" stroke-width="0.9"/>
<circle cx="520.69" cy="89.03" r="2.4" fill="none" stroke="#FF0000" stroke-width="0.9"/>
<circle cx="522.12" cy="88.81" r="2.4" fill="none" stroke="#FF0000" stroke-width="0.9"/>
<circle cx="523.54" cy="87.02" r="2.4" fill="none" stroke="#FF0000" stroke-width="0.9"/>
<circle cx="524.96" cy="86.72" r="2.4" fill="none" stroke="#FF0000" stroke-width="0.9"/>
<circle cx="526.38" cy="83.31" r="2.4" fill="none" stroke="#FF0000" stroke-width="0.9"/>
<circle cx="527.8" cy="78.83" r="2.4" fill="none" stroke="#FF0000" stroke-width="0.9"/>
<circle cx="529.22" cy="78.92" r="2.4" fill="none" stroke="#FF0000" stroke-width="0.9"/>
<circle cx="530.64" cy="79.37" r="2.4" fill="none" stroke="#FF0000" stroke-width="0.9"/>
<circle cx="532.06" cy="77.66" r="2.4" fill="none" stroke="#FF0000" stroke-width="0.9"/>
<circle cx="533.49" cy="68.46" r="2.4" fill="none" stroke="#FF0000" stroke-width="0.9"/>
<circle cx="534.91" cy="71.1" r="2.4" fill="none" stroke="#FF0000" stroke-width="0.9"/>
<circle cx="536.33" cy="71.45" r="2.4" fill="none" stroke="#FF0000" stroke-width="0.9"/>
<circle cx="537.75" cy="77.9" r="2.4" fill="none" stroke="#FF0000" stroke-width="0.9"/>
<circle cx="539.17" cy="69.94" r="2.4" fill="none" stroke="#FF0000" stroke-width="0.9"/>
<circle cx="540.59" cy="69.48" r="2.4" fill="none" stroke="#FF0000" stroke-width="0.9"/>
<circle cx="542.01" cy="66.02" r="2.4" fill="none" stroke="#FF0000" stroke-width="0.9"/>
<circle cx="543.43" cy="68.05" r="2.4" fill="none" stroke="#FF0000" stroke-width="0.9"/>
<circle cx="544.85" cy="68.38" r="2.4" fill="none" stroke="#FF0000" stroke-width="0.9"/>
<circle cx="546.28" cy="66.29" r="2.4" fill="none" stroke="#FF0000" stroke-width="0.9"/>
<circle cx="547.7" cy="71.03" r="2.4" fill="none" stroke="#FF0000" stroke-width="0.9"/>
<circle cx="549.12" cy="63.6" r="2.4" fill="none" stroke="#FF0000" stroke-width="0.9"/>
<circle cx="550.54" cy="64.41" r="2.4" fill="none" stroke="#FF0000" stroke-width="0.9"/>
<circle cx="551.96" cy="65.99" r="2.4" fill="none" stroke="#FF0000" stroke-width="0.9"/>
<circle cx="553.38" cy="60.82" r="2.4" fill="none" stroke="#FF0000" stroke-width="0.9"/>
<circle cx="554.8" cy="59.11" r="2.4" fill="none" stroke="#FF0000" stroke-width="0.9"/>
<circle cx="556.22" cy="65.66" r="2.4" fill="none" stroke="#FF0000" stroke-width="0.9"/>
<circle cx="557.65" cy="63.38" r="2.4" fill="none" stroke="#FF0000" stroke-width="0.9"/>
<circle cx="559.07" cy="60.61" r="2.4" fill="none" stroke="#FF0000" stroke-width="0.9"/>
<circle cx="560.49" cy="60.22" r="2.4" fill="none" stroke="#FF0000" stroke-width="0.9"/>
<circle cx="561.91" cy="60.89" r="2.4" fill="none" stroke="#FF0000" stroke-width="0.9"/>
<circle cx="563.33" cy="61.55" r="2.4" fill="none" stroke="#FF0000" stroke-width="0.9"/>
<circle cx="564.75" cy="54" r="2.4" fill="none" stroke="#FF0000" stroke-width="0.9"/>
<circle cx="566.17" cy="55.79" r="2.4" fill="none" stroke="#FF0000" stroke-width="0.9"/>
<circle cx="567.59" cy="60.15" r="2.4" fill="none" stroke="#FF0000" stroke-width="0.9"/>
<circle cx="569.02" cy="59.86" r="2.4" fill="none" stroke="#FF0000" stroke-width="0.9"/>
<circle cx="570.44" cy="52.41" r="2.4" fill="none" stroke="#FF0000" stroke-width="0.9"/>
<circle cx="571.86" cy="53.38" r="2.4" fill="none" stroke="#FF0000" stroke-width="0.9"/>
<circle cx="573.28" cy="50.89" r="2.4" fill="none" stroke="#FF0000" stroke-width="0.9"/>
<circle cx="574.7" cy="52.52" r="2.4" fill="none" stroke="#FF0000" stroke-width="0.9"/>
<circle cx="576.12" cy="55.87" r="2.4" fill="none" stroke="#FF0000" stroke-width="0.9"/>
<circle cx="577.54" cy="52.98" r="2.4" fill="none" stroke="#FF0000" stroke-width="0.9"/>
<circle cx="578.96" cy="58.03" r="2.4" fill="none" stroke="#FF0000" stroke-width="0.9"/>
<circle cx="580.38" cy="54.51" r="2.4" fill="none" stroke="#FF0000" stroke-width="0.9"/>
<circle cx="581.81" cy="52.61" r="2.4" fill="none" stroke="#FF0000" stroke-width="0.9"/>
<circle cx="583.23" cy="50.96" r="2.4" fill="none" stroke="#FF0000" stroke-width="0.9"/>
<circle cx="584.65" cy="53.39" r="2.4" fill="none" stroke="#FF0000" stroke-width="0.9"/>
<circle cx="586.07" cy="51.68" r="2.4" fill="none" stroke="#FF0000" stroke-width="0.9"/>
<circle cx="587.49" cy="50.02" r="2.4" fill="none" stroke="#FF0000" stroke-width="0.9"/>
<circle cx="588.91" cy="49.85" r="2.4" fill="none" stroke="#FF0000" stroke-width="0.9"/>
<circle cx="590.33" cy="48.9" r="2.4" fill="none" stroke="#FF0000" stroke-width="0.9"/>
<circle cx="591.75" cy="49.5" r="2.4" fill="none" stroke="#FF0000" stroke-width="0.9"/>
<circle cx="593.18" cy="50.34" r="2.4" fill="none" stroke="#FF0000" stroke-width="0.9"/>
<circle cx="594.6" cy="47.49" r="2.4" fill="none" stroke="#FF0000" stroke-width="0.9"/>
<circle cx="596.02" cy="48.78" r="2.4" fill="none" stroke="#FF0000" stroke-width="0.9"/>
<circle cx="597.44" cy="50.38" r="2.4" fill="none" stroke="#FF0000" stroke-width="0.9"/>
<circle cx="598.86" cy="49.58" r="2.4" fill="none" stroke="#FF0000" stroke-width="0.9"/>
<circle cx="600.28" cy="47.82" r="2.4" fill="none" stroke="#FF0000" stroke-width="0.9"/>
<circle cx="601.7" cy="47.7" r="2.4" fill="none" stroke="#FF0000" stroke-width="0.9"/>
<circle cx="603.12" cy="46.77" r="2.4" fill="none" stroke="#FF0000" stroke-width="0.9"/>
<circle cx="604.55" cy="46.96" r="2.4" fill="none" stroke="#FF0000" stroke-width="0.9"/>
<circle cx="605.97" cy="46.41" r="2.4" fill="none" stroke="#FF0000" stroke-width="0.9"/>
<circle cx="607.39" cy="46.94" r="2.4" fill="none" stroke="#FF0000" stroke-width="0.9"/>
<circle cx="608.81" cy="49.29" r="2.4" fill="none" stroke="#FF0000" stroke-width="0.9"/>
<circle cx="610.23" cy="45.38" r="2.4" fill="none" stroke="#FF0000" stroke-width="0.9"/>
<circle cx="611.65" cy="43.8" r="2.4" fill="none" stroke="#FF0000" stroke-width="0.9"/>
<circle cx="613.07" cy="45.03" r="2.4" fill="none" stroke="#FF0000" stroke-width="0.9"/>
<circle cx="614.49" cy="46.26" r="2.4" fill="none" stroke="#FF0000" stroke-width="0.9"/>
<circle cx="615.91" cy="44.68" r="2.4" fill="none" stroke="#FF0000" stroke-width="0.9"/>
<circle cx="617.34" cy="47.68" r="2.4" fill="none" stroke="#FF0000" stroke-width="0.9"/>
<circle cx="618.76" cy="49.6" r="2.4" fill="none" stroke="#FF0000" stroke-width="0.9"/>
<circle cx="620.18" cy="45.07" r="2.4" fill="none" stroke="#FF0000" stroke-width="0.9"/>
<circle cx="621.6" cy="47.12" r="2.4" fill="none" stroke="#FF0000" stroke-width="0.9"/>
<circle cx="623.02" cy="43.23" r="2.4" fill="none" stroke="#FF0000" stroke-width="0.9"/>
<circle cx="624.44" cy="47.15" r="2.4" fill="none" stroke="#FF0000" stroke-width="0.9"/>
<circle cx="625.86" cy="50.44" r="2.4" fill="none" stroke="#FF0000" stroke-width="0.9"/>
<circle cx="627.28" cy="46.73" r="2.4" fill="none" stroke="#FF0000" stroke-width="0.9"/>
<circle cx="628.71" cy="40.72" r="2.4" fill="none" stroke="#FF0000" stroke-width="0.9"/>
<circle cx="630.13" cy="44.94" r="2.4" fill="none" stroke="#FF0000" stroke-width="0.9"/>
<circle cx="631.55" cy="46.99" r="2.4" fill="none" stroke="#FF0000" stroke-width="0.9"/>
<circle cx="632.97" cy="45.47" r="2.4" fill="none" stroke="#FF0000" stroke-width="0.9"/>
<circle cx="634.39" cy="42.36" r="2.4" fill="none" stroke="#FF0000" stroke-width="0.9"/>
<circle cx="635.81" cy="42.19" r="2.4" fill="none" stroke="#FF0000" stroke-width="0.9"/>
<circle cx="637.23" cy="42.67" r="2.4" fill="none" stroke="#FF0000" stroke-width="0.9"/>
<circle cx="638.65" cy="39.52" r="2.4" fill="none" stroke="#FF0000" stroke-width="0.9"/>
<circle cx="640.08" cy="41.03" r="2.4" fill="none" stroke="#FF0000" stroke-width="0.9"/>
<circle cx="641.5" cy="42.43" r="2.4" fill="none" stroke="#FF0000" stroke-width="0.9"/>
<circle cx="642.92" cy="40.82" r="2.4" fill="none" stroke="#FF0000" stroke-width="0.9"/>
<circle cx="644.34" cy="38.22" r="2.4" fill="none" stroke="#FF0000" stroke-width="0.9"/>
<circle cx="645.76" cy="39.52" r="2.4" fill="none" stroke="#FF0000" stroke-width="0.9"/>
<circle cx="647.18" cy="39.17" r="2.4" fill="none" stroke="#FF0000" stroke-width="0.9"/>
<circle cx="648.6" cy="43.65" r="2.4" fill="none" stroke="#FF0000" stroke-width="0.9"/>
<circle cx="650.02" cy="41.34" r="2.4" fill="none" stroke="#FF0000" stroke-width="0.9"/>
<circle cx="651.44" cy="39.14" r="2.4" fill="none" stroke="#FF0000" stroke-width="0.9"/>
<circle cx="652.87" cy="41.21" r="2.4" fill="none" stroke="#FF0000" stroke-width="0.9"/>
<circle cx="654.29" cy="37.93" r="2.4" fill="none" stroke="#FF0000" stroke-width="0.9"/>
<circle cx="655.71" cy="38.75" r="2.4" fill="none" stroke="#FF0000" stroke-width="0.9"/>
<circle cx="657.13" cy="37.83" r="2.4" fill="none" stroke="#FF0000" stroke-width="0.9"/>
<circle cx="658.55" cy="40.1" r="2.4" fill="none" stroke="#FF0000" stroke-width="0.9"/>
<circle cx="659.97" cy="33.7" r="2.4" fill="none" stroke="#FF0000" stroke-width="0.9"/>
<circle cx="661.39" cy="36.4" r="2.4" fill="none" stroke="#FF0000" stroke-width="0.9"/>
<circle cx="662.81" cy="39.42" r="2.4" fill="none" stroke="#FF0000" stroke-width="0.9"/>
<circle cx="664.24" cy="38.51" r="2.4" fill="none" stroke="#FF0000" stroke-width="0.9"/>
<line x1="507.2" y1="196.5" x2="507.2" y2="205" stroke="#000" stroke-width="1.1"/>
<path d="M504.4,203.6 L510,203.6 L507.2,208.9 Z" fill="#000"/>
<text x="-0.82" y="0" font-size="21" fill="#000" transform="translate(483 166) scale(1 1.04)">0.6 µM</text>
<text x="0" y="0" font-size="21" text-anchor="start" fill="#000" transform="translate(496 189.4) scale(1 1.04)"><tspan>Ca</tspan><tspan font-size="10" dy="-10">2+</tspan></text>
<circle cx="554.2" cy="100" r="5.2" fill="none" stroke="#FF0000" stroke-width="1.6"/>
<text x="-1.72" y="0" font-size="21" fill="#FF0000" transform="translate(568.7 108) scale(1 1.04)">MICU1-KO</text>
<circle cx="554.2" cy="122" r="5.2" fill="none" stroke="#0000FF" stroke-width="1.6"/>
<text x="-1.72" y="0" font-size="21" fill="#0000FF" transform="translate(568.7 130.5) scale(1 1.04)">MICU1-KO</text>
<text x="-1.03" y="0" font-size="21" fill="#0000FF" transform="translate(568.7 151.2) scale(1 1.04)">+ Ru360</text>
<circle cx="572.3" cy="171" r="5.2" fill="none" stroke="#000" stroke-width="1.6"/>
<text x="-0.09" y="0" font-size="21" fill="#000" transform="translate(586.8 178) scale(1 1.04)">WT</text>
<line x1="803" y1="25.8" x2="803" y2="224.3" stroke="#000" stroke-width="1.5"/>
<line x1="793.8" y1="216" x2="803" y2="216" stroke="#000" stroke-width="1.5"/>
<line x1="793.8" y1="26.5" x2="803" y2="26.5" stroke="#000" stroke-width="1.5"/>
<text x="-10.3" y="0" font-size="20.3" fill="#000" transform="translate(787 32.6) scale(1 1.04)">1</text>
<text x="-10.5" y="0" font-size="20.3" fill="#000" transform="translate(787.5 222.6) scale(1 1.04)">0</text>
<line x1="798.5" y1="178.1" x2="803" y2="178.1" stroke="#000" stroke-width="1.5"/>
<line x1="798.5" y1="140.2" x2="803" y2="140.2" stroke="#000" stroke-width="1.5"/>
<line x1="798.5" y1="102.3" x2="803" y2="102.3" stroke="#000" stroke-width="1.5"/>
<line x1="798.5" y1="64.4" x2="803" y2="64.4" stroke="#000" stroke-width="1.5"/>
<line x1="802.3" y1="223.6" x2="999.7" y2="223.6" stroke="#000" stroke-width="1.5"/>
<line x1="811.6" y1="223.6" x2="811.6" y2="234" stroke="#000" stroke-width="1.5"/>
<text x="-5.64" y="0" font-size="20.3" fill="#000" transform="translate(811.6 256.4) scale(1 1.04)">0</text>
<line x1="967.6" y1="223.6" x2="967.6" y2="234" stroke="#000" stroke-width="1.5"/>
<text x="-5.92" y="0" font-size="20.3" fill="#000" transform="translate(967.6 256.4) scale(1 1.04)">1</text>
<line x1="842.8" y1="223.6" x2="842.8" y2="229.4" stroke="#000" stroke-width="1.5"/>
<line x1="874" y1="223.6" x2="874" y2="229.4" stroke="#000" stroke-width="1.5"/>
<line x1="905.2" y1="223.6" x2="905.2" y2="229.4" stroke="#000" stroke-width="1.5"/>
<line x1="936.4" y1="223.6" x2="936.4" y2="229.4" stroke="#000" stroke-width="1.5"/>
<line x1="998.8" y1="223.6" x2="998.8" y2="229.4" stroke="#000" stroke-width="1.5"/>
<text x="0" y="0" font-size="22.3" text-anchor="start" fill="#000" transform="translate(806 289.2)"><tspan>External [Ca</tspan><tspan font-size="15" dy="-11">2+</tspan><tspan dy="11">] (µM)</tspan></text>
<text x="0" y="0" font-size="22.8" text-anchor="start" fill="#000" transform="translate(738.4 179.8) rotate(-90) scale(1 1.04)"><tspan>Matrix Ca</tspan><tspan font-size="15.5" dy="-14">2+</tspan></text>
<text x="0" y="0" font-size="22.8" text-anchor="start" fill="#000" transform="translate(761.1 196.5) rotate(-90) scale(1 1.04)"><tspan>increase (ΔF/F)</tspan></text>
<polyline points="811.6,216 828.76,179.43 842.8,160.29 905.2,106.66 998.8,73.88" fill="none" stroke="#FF0000" stroke-width="2.0" stroke-linejoin="round"/>
<rect x="807.1" y="211.5" width="9" height="9" fill="none" stroke="#FF0000" stroke-width="1.9"/>
<rect x="824.26" y="174.93" width="9" height="9" fill="none" stroke="#FF0000" stroke-width="1.9"/>
<rect x="838.3" y="155.79" width="9" height="9" fill="none" stroke="#FF0000" stroke-width="1.9"/>
<rect x="900.7" y="102.16" width="9" height="9" fill="none" stroke="#FF0000" stroke-width="1.9"/>
<rect x="994.3" y="69.38" width="9" height="9" fill="none" stroke="#FF0000" stroke-width="1.9"/>
<line x1="905.2" y1="93.4" x2="905.2" y2="119.9" stroke="#FF0000" stroke-width="1.6"/>
<line x1="901.8" y1="93.4" x2="908.6" y2="93.4" stroke="#FF0000" stroke-width="1.6"/>
<line x1="901.8" y1="119.9" x2="908.6" y2="119.9" stroke="#FF0000" stroke-width="1.6"/>
<line x1="998.8" y1="55.8" x2="998.8" y2="91" stroke="#FF0000" stroke-width="1.6"/>
<line x1="995.4" y1="55.8" x2="1002.2" y2="55.8" stroke="#FF0000" stroke-width="1.6"/>
<line x1="995.4" y1="91" x2="1002.2" y2="91" stroke="#FF0000" stroke-width="1.6"/>
<polyline points="811.6,216 828.76,216.19 842.8,213.35 905.2,211.64 998.8,208.61" fill="none" stroke="#000" stroke-width="2.0" stroke-linejoin="round"/>
<rect x="807.1" y="211.5" width="9" height="9" fill="none" stroke="#000" stroke-width="1.9"/>
<rect x="824.26" y="211.69" width="9" height="9" fill="none" stroke="#000" stroke-width="1.9"/>
<rect x="838.3" y="208.85" width="9" height="9" fill="none" stroke="#000" stroke-width="1.9"/>
<rect x="900.7" y="207.14" width="9" height="9" fill="none" stroke="#000" stroke-width="1.9"/>
<rect x="994.3" y="204.11" width="9" height="9" fill="none" stroke="#000" stroke-width="1.9"/>
<line x1="998.8" y1="205.41" x2="998.8" y2="211.81" stroke="#000" stroke-width="1.5"/>
<line x1="995.8" y1="205.41" x2="1001.8" y2="205.41" stroke="#000" stroke-width="1.5"/>
<line x1="995.8" y1="211.81" x2="1001.8" y2="211.81" stroke="#000" stroke-width="1.5"/>
<rect x="831.2" y="33.9" width="14" height="14" fill="none" stroke="#FF0000" stroke-width="1.5"/>
<text x="-2.09" y="0" font-size="25.5" fill="#FF0000" transform="translate(863 49.6) scale(1 1.04)">MICU1-KO</text>
<rect x="831.2" y="64.6" width="14" height="14" fill="none" stroke="#000" stroke-width="1.5"/>
<text x="-0.11" y="0" font-size="25.5" fill="#000" transform="translate(863 80.6) scale(1 1.04)">WT</text>
<line x1="466.4" y1="336.9" x2="466.4" y2="571.7" stroke="#000" stroke-width="1.5"/>
<line x1="456.4" y1="562" x2="466.4" y2="562" stroke="#000" stroke-width="1.5"/>
<text x="-25.67" y="0" font-size="19" fill="#000" transform="translate(452.2 567) scale(1 1.04)">0.0</text>
<line x1="456.4" y1="471.8" x2="466.4" y2="471.8" stroke="#000" stroke-width="1.5"/>
<text x="-25.48" y="0" font-size="19" fill="#000" transform="translate(452.2 476.8) scale(1 1.04)">0.1</text>
<line x1="456.4" y1="381.6" x2="466.4" y2="381.6" stroke="#000" stroke-width="1.5"/>
<text x="-25.46" y="0" font-size="19" fill="#000" transform="translate(452.2 386.6) scale(1 1.04)">0.2</text>
<line x1="465.7" y1="571" x2="707.4" y2="571" stroke="#000" stroke-width="1.5"/>
<line x1="472.3" y1="571" x2="472.3" y2="580.5" stroke="#000" stroke-width="1.5"/>
<text x="-5.28" y="0" font-size="19" fill="#000" transform="translate(472.3 602.2) scale(1 1.04)">0</text>
<line x1="550.4" y1="571" x2="550.4" y2="580.5" stroke="#000" stroke-width="1.5"/>
<text x="-5.54" y="0" font-size="19" fill="#000" transform="translate(550.4 602.2) scale(1 1.04)">1</text>
<line x1="628.5" y1="571" x2="628.5" y2="580.5" stroke="#000" stroke-width="1.5"/>
<text x="-5.28" y="0" font-size="19" fill="#000" transform="translate(628.5 602.2) scale(1 1.04)">2</text>
<line x1="706.6" y1="571" x2="706.6" y2="580.5" stroke="#000" stroke-width="1.5"/>
<text x="-5.23" y="0" font-size="19" fill="#000" transform="translate(706.6 602.2) scale(1 1.04)">3</text>
<text x="-0.47" y="0" font-size="21" fill="#000" transform="translate(540.4 625.5)">Time (min)</text>
<text x="0" y="0" font-size="22.3" text-anchor="start" fill="#000" transform="translate(406.4 554.5) rotate(-90)"><tspan>Luminescence (ΔL/L)</tspan></text>
<text x="-1.72" y="0" font-size="21" fill="#0000FF" transform="translate(479.5 348) scale(1 1.04)">MICU2</text>
<text x="-0.93" y="0" font-size="21" fill="#0000FF" transform="translate(479.5 371.1) scale(1 1.04)">-KO</text>
<text x="-1.68" y="0" font-size="20.5" fill="#FF0000" transform="translate(552.4 417.4) scale(1 1.04)">MICU1-KO</text>
<text x="-0.09" y="0" font-size="21" fill="#000" transform="translate(591.1 522.3) scale(1 1.04)">WT</text>
<circle cx="484" cy="560.82" r="3.6" fill="none" stroke="#000" stroke-width="0.95"/>
<circle cx="485.7" cy="563.52" r="3.6" fill="none" stroke="#000" stroke-width="0.95"/>
<circle cx="487.4" cy="563.67" r="3.6" fill="none" stroke="#000" stroke-width="0.95"/>
<circle cx="489.1" cy="557.38" r="3.6" fill="none" stroke="#000" stroke-width="0.95"/>
<circle cx="490.8" cy="552.83" r="3.6" fill="none" stroke="#000" stroke-width="0.95"/>
<circle cx="492.5" cy="552.83" r="3.6" fill="none" stroke="#000" stroke-width="0.95"/>
<circle cx="494.2" cy="550.84" r="3.6" fill="none" stroke="#000" stroke-width="0.95"/>
<circle cx="495.9" cy="549.25" r="3.6" fill="none" stroke="#000" stroke-width="0.95"/>
<circle cx="497.6" cy="540.2" r="3.6" fill="none" stroke="#000" stroke-width="0.95"/>
<circle cx="499.3" cy="536.96" r="3.6" fill="none" stroke="#000" stroke-width="0.95"/>
<circle cx="501" cy="539.95" r="3.6" fill="none" stroke="#000" stroke-width="0.95"/>
<circle cx="502.7" cy="539.84" r="3.6" fill="none" stroke="#000" stroke-width="0.95"/>
<circle cx="504.4" cy="543.09" r="3.6" fill="none" stroke="#000" stroke-width="0.95"/>
<circle cx="506.1" cy="542.15" r="3.6" fill="none" stroke="#000" stroke-width="0.95"/>
<circle cx="507.8" cy="539.93" r="3.6" fill="none" stroke="#000" stroke-width="0.95"/>
<circle cx="509.5" cy="540.6" r="3.6" fill="none" stroke="#000" stroke-width="0.95"/>
<circle cx="511.2" cy="549.11" r="3.6" fill="none" stroke="#000" stroke-width="0.95"/>
<circle cx="512.9" cy="542.8" r="3.6" fill="none" stroke="#000" stroke-width="0.95"/>
<circle cx="514.6" cy="542.39" r="3.6" fill="none" stroke="#000" stroke-width="0.95"/>
<circle cx="516.3" cy="538.64" r="3.6" fill="none" stroke="#000" stroke-width="0.95"/>
<circle cx="518" cy="539.01" r="3.6" fill="none" stroke="#000" stroke-width="0.95"/>
<circle cx="519.7" cy="536.31" r="3.6" fill="none" stroke="#000" stroke-width="0.95"/>
<circle cx="521.4" cy="532.2" r="3.6" fill="none" stroke="#000" stroke-width="0.95"/>
<circle cx="523.1" cy="534.64" r="3.6" fill="none" stroke="#000" stroke-width="0.95"/>
<circle cx="524.8" cy="537.21" r="3.6" fill="none" stroke="#000" stroke-width="0.95"/>
<circle cx="526.5" cy="540" r="3.6" fill="none" stroke="#000" stroke-width="0.95"/>
<circle cx="528.2" cy="542.75" r="3.6" fill="none" stroke="#000" stroke-width="0.95"/>
<circle cx="529.9" cy="542.15" r="3.6" fill="none" stroke="#000" stroke-width="0.95"/>
<circle cx="531.6" cy="538.65" r="3.6" fill="none" stroke="#000" stroke-width="0.95"/>
<circle cx="533.3" cy="546.82" r="3.6" fill="none" stroke="#000" stroke-width="0.95"/>
<circle cx="535" cy="543.01" r="3.6" fill="none" stroke="#000" stroke-width="0.95"/>
<circle cx="536.7" cy="544.25" r="3.6" fill="none" stroke="#000" stroke-width="0.95"/>
<circle cx="538.4" cy="538.37" r="3.6" fill="none" stroke="#000" stroke-width="0.95"/>
<circle cx="540.1" cy="539.36" r="3.6" fill="none" stroke="#000" stroke-width="0.95"/>
<circle cx="541.8" cy="531.81" r="3.6" fill="none" stroke="#000" stroke-width="0.95"/>
<circle cx="543.5" cy="528.87" r="3.6" fill="none" stroke="#000" stroke-width="0.95"/>
<circle cx="545.2" cy="531.38" r="3.6" fill="none" stroke="#000" stroke-width="0.95"/>
<circle cx="546.9" cy="523.97" r="3.6" fill="none" stroke="#000" stroke-width="0.95"/>
<circle cx="548.6" cy="529.69" r="3.6" fill="none" stroke="#000" stroke-width="0.95"/>
<circle cx="550.3" cy="527.46" r="3.6" fill="none" stroke="#000" stroke-width="0.95"/>
<circle cx="552" cy="531.95" r="3.6" fill="none" stroke="#000" stroke-width="0.95"/>
<circle cx="553.7" cy="533.29" r="3.6" fill="none" stroke="#000" stroke-width="0.95"/>
<circle cx="555.4" cy="530.19" r="3.6" fill="none" stroke="#000" stroke-width="0.95"/>
<circle cx="557.1" cy="530.26" r="3.6" fill="none" stroke="#000" stroke-width="0.95"/>
<circle cx="558.8" cy="529.1" r="3.6" fill="none" stroke="#000" stroke-width="0.95"/>
<circle cx="560.5" cy="527.35" r="3.6" fill="none" stroke="#000" stroke-width="0.95"/>
<circle cx="562.2" cy="532.57" r="3.6" fill="none" stroke="#000" stroke-width="0.95"/>
<circle cx="563.9" cy="530.12" r="3.6" fill="none" stroke="#000" stroke-width="0.95"/>
<circle cx="565.6" cy="538.23" r="3.6" fill="none" stroke="#000" stroke-width="0.95"/>
<circle cx="567.3" cy="533.17" r="3.6" fill="none" stroke="#000" stroke-width="0.95"/>
<circle cx="569" cy="537.38" r="3.6" fill="none" stroke="#000" stroke-width="0.95"/>
<circle cx="570.7" cy="536.72" r="3.6" fill="none" stroke="#000" stroke-width="0.95"/>
<circle cx="572.4" cy="540.31" r="3.6" fill="none" stroke="#000" stroke-width="0.95"/>
<circle cx="574.1" cy="537.4" r="3.6" fill="none" stroke="#000" stroke-width="0.95"/>
<circle cx="575.8" cy="542.7" r="3.6" fill="none" stroke="#000" stroke-width="0.95"/>
<circle cx="577.5" cy="540.91" r="3.6" fill="none" stroke="#000" stroke-width="0.95"/>
<circle cx="579.2" cy="545.33" r="3.6" fill="none" stroke="#000" stroke-width="0.95"/>
<circle cx="580.9" cy="542.22" r="3.6" fill="none" stroke="#000" stroke-width="0.95"/>
<circle cx="582.6" cy="542.1" r="3.6" fill="none" stroke="#000" stroke-width="0.95"/>
<circle cx="584.3" cy="540.84" r="3.6" fill="none" stroke="#000" stroke-width="0.95"/>
<circle cx="586" cy="546" r="3.6" fill="none" stroke="#000" stroke-width="0.95"/>
<circle cx="587.7" cy="544.75" r="3.6" fill="none" stroke="#000" stroke-width="0.95"/>
<circle cx="589.4" cy="545.54" r="3.6" fill="none" stroke="#000" stroke-width="0.95"/>
<circle cx="591.1" cy="538.02" r="3.6" fill="none" stroke="#000" stroke-width="0.95"/>
<circle cx="592.8" cy="538.18" r="3.6" fill="none" stroke="#000" stroke-width="0.95"/>
<circle cx="594.5" cy="539.09" r="3.6" fill="none" stroke="#000" stroke-width="0.95"/>
<circle cx="596.2" cy="544.25" r="3.6" fill="none" stroke="#000" stroke-width="0.95"/>
<circle cx="597.9" cy="549.8" r="3.6" fill="none" stroke="#000" stroke-width="0.95"/>
<circle cx="599.6" cy="555.47" r="3.6" fill="none" stroke="#000" stroke-width="0.95"/>
<circle cx="601.3" cy="550.4" r="3.6" fill="none" stroke="#000" stroke-width="0.95"/>
<circle cx="603" cy="546.27" r="3.6" fill="none" stroke="#000" stroke-width="0.95"/>
<circle cx="604.7" cy="544.82" r="3.6" fill="none" stroke="#000" stroke-width="0.95"/>
<circle cx="606.4" cy="546.93" r="3.6" fill="none" stroke="#000" stroke-width="0.95"/>
<circle cx="608.1" cy="550.67" r="3.6" fill="none" stroke="#000" stroke-width="0.95"/>
<circle cx="609.8" cy="550.63" r="3.6" fill="none" stroke="#000" stroke-width="0.95"/>
<circle cx="611.5" cy="551.39" r="3.6" fill="none" stroke="#000" stroke-width="0.95"/>
<circle cx="613.2" cy="547.54" r="3.6" fill="none" stroke="#000" stroke-width="0.95"/>
<circle cx="614.9" cy="544.21" r="3.6" fill="none" stroke="#000" stroke-width="0.95"/>
<circle cx="616.6" cy="539.74" r="3.6" fill="none" stroke="#000" stroke-width="0.95"/>
<circle cx="618.3" cy="538.79" r="3.6" fill="none" stroke="#000" stroke-width="0.95"/>
<circle cx="620" cy="543.81" r="3.6" fill="none" stroke="#000" stroke-width="0.95"/>
<circle cx="621.7" cy="540.76" r="3.6" fill="none" stroke="#000" stroke-width="0.95"/>
<circle cx="623.4" cy="542.23" r="3.6" fill="none" stroke="#000" stroke-width="0.95"/>
<circle cx="625.1" cy="550.12" r="3.6" fill="none" stroke="#000" stroke-width="0.95"/>
<circle cx="626.8" cy="546.22" r="3.6" fill="none" stroke="#000" stroke-width="0.95"/>
<circle cx="628.5" cy="548.67" r="3.6" fill="none" stroke="#000" stroke-width="0.95"/>
<circle cx="630.2" cy="548.97" r="3.6" fill="none" stroke="#000" stroke-width="0.95"/>
<circle cx="631.9" cy="543.41" r="3.6" fill="none" stroke="#000" stroke-width="0.95"/>
<circle cx="633.6" cy="551.85" r="3.6" fill="none" stroke="#000" stroke-width="0.95"/>
<circle cx="635.3" cy="549.3" r="3.6" fill="none" stroke="#000" stroke-width="0.95"/>
<circle cx="637" cy="544.3" r="3.6" fill="none" stroke="#000" stroke-width="0.95"/>
<circle cx="638.7" cy="549.22" r="3.6" fill="none" stroke="#000" stroke-width="0.95"/>
<circle cx="640.4" cy="553.98" r="3.6" fill="none" stroke="#000" stroke-width="0.95"/>
<circle cx="642.1" cy="557.75" r="3.6" fill="none" stroke="#000" stroke-width="0.95"/>
<circle cx="643.8" cy="557.51" r="3.6" fill="none" stroke="#000" stroke-width="0.95"/>
<circle cx="645.5" cy="555.37" r="3.6" fill="none" stroke="#000" stroke-width="0.95"/>
<circle cx="647.2" cy="553.9" r="3.6" fill="none" stroke="#000" stroke-width="0.95"/>
<circle cx="648.9" cy="550.72" r="3.6" fill="none" stroke="#000" stroke-width="0.95"/>
<circle cx="650.6" cy="548.35" r="3.6" fill="none" stroke="#000" stroke-width="0.95"/>
<circle cx="652.3" cy="551.03" r="3.6" fill="none" stroke="#000" stroke-width="0.95"/>
<circle cx="654" cy="545.4" r="3.6" fill="none" stroke="#000" stroke-width="0.95"/>
<circle cx="655.7" cy="553.51" r="3.6" fill="none" stroke="#000" stroke-width="0.95"/>
<circle cx="657.4" cy="558.42" r="3.6" fill="none" stroke="#000" stroke-width="0.95"/>
<circle cx="659.1" cy="558.84" r="3.6" fill="none" stroke="#000" stroke-width="0.95"/>
<circle cx="660.8" cy="555.67" r="3.6" fill="none" stroke="#000" stroke-width="0.95"/>
<circle cx="662.5" cy="557.29" r="3.6" fill="none" stroke="#000" stroke-width="0.95"/>
<circle cx="664.2" cy="559.59" r="3.6" fill="none" stroke="#000" stroke-width="0.95"/>
<circle cx="665.9" cy="559.07" r="3.6" fill="none" stroke="#000" stroke-width="0.95"/>
<circle cx="667.6" cy="559" r="3.6" fill="none" stroke="#000" stroke-width="0.95"/>
<circle cx="669.3" cy="549.64" r="3.6" fill="none" stroke="#000" stroke-width="0.95"/>
<circle cx="671" cy="549.53" r="3.6" fill="none" stroke="#000" stroke-width="0.95"/>
<circle cx="672.7" cy="550.28" r="3.6" fill="none" stroke="#000" stroke-width="0.95"/>
<circle cx="674.4" cy="547.5" r="3.6" fill="none" stroke="#000" stroke-width="0.95"/>
<circle cx="676.1" cy="541.06" r="3.6" fill="none" stroke="#000" stroke-width="0.95"/>
<circle cx="677.8" cy="549.9" r="3.6" fill="none" stroke="#000" stroke-width="0.95"/>
<circle cx="679.5" cy="555.51" r="3.6" fill="none" stroke="#000" stroke-width="0.95"/>
<circle cx="681.2" cy="553.81" r="3.6" fill="none" stroke="#000" stroke-width="0.95"/>
<circle cx="682.9" cy="548.43" r="3.6" fill="none" stroke="#000" stroke-width="0.95"/>
<circle cx="684.6" cy="548.91" r="3.6" fill="none" stroke="#000" stroke-width="0.95"/>
<circle cx="472.3" cy="556.62" r="3.6" fill="none" stroke="#FF0000" stroke-width="0.95"/>
<circle cx="474" cy="560.21" r="3.6" fill="none" stroke="#FF0000" stroke-width="0.95"/>
<circle cx="475.7" cy="552.22" r="3.6" fill="none" stroke="#FF0000" stroke-width="0.95"/>
<circle cx="477.4" cy="548.84" r="3.6" fill="none" stroke="#FF0000" stroke-width="0.95"/>
<circle cx="479.1" cy="551.1" r="3.6" fill="none" stroke="#FF0000" stroke-width="0.95"/>
<circle cx="480.8" cy="544.56" r="3.6" fill="none" stroke="#FF0000" stroke-width="0.95"/>
<circle cx="482.5" cy="547.95" r="3.6" fill="none" stroke="#FF0000" stroke-width="0.95"/>
<circle cx="484.2" cy="538.77" r="3.6" fill="none" stroke="#FF0000" stroke-width="0.95"/>
<circle cx="485.9" cy="537.96" r="3.6" fill="none" stroke="#FF0000" stroke-width="0.95"/>
<circle cx="487.6" cy="542.95" r="3.6" fill="none" stroke="#FF0000" stroke-width="0.95"/>
<circle cx="489.3" cy="546.56" r="3.6" fill="none" stroke="#FF0000" stroke-width="0.95"/>
<circle cx="491" cy="546.04" r="3.6" fill="none" stroke="#FF0000" stroke-width="0.95"/>
<circle cx="492.7" cy="542.19" r="3.6" fill="none" stroke="#FF0000" stroke-width="0.95"/>
<circle cx="494.4" cy="532" r="3.6" fill="none" stroke="#FF0000" stroke-width="0.95"/>
<circle cx="496.1" cy="530.9" r="3.6" fill="none" stroke="#FF0000" stroke-width="0.95"/>
<circle cx="497.8" cy="527.79" r="3.6" fill="none" stroke="#FF0000" stroke-width="0.95"/>
<circle cx="499.5" cy="524.61" r="3.6" fill="none" stroke="#FF0000" stroke-width="0.95"/>
<circle cx="501.2" cy="523.55" r="3.6" fill="none" stroke="#FF0000" stroke-width="0.95"/>
<circle cx="502.9" cy="515.34" r="3.6" fill="none" stroke="#FF0000" stroke-width="0.95"/>
<circle cx="504.6" cy="513.15" r="3.6" fill="none" stroke="#FF0000" stroke-width="0.95"/>
<circle cx="506.3" cy="506.58" r="3.6" fill="none" stroke="#FF0000" stroke-width="0.95"/>
<circle cx="508" cy="500.51" r="3.6" fill="none" stroke="#FF0000" stroke-width="0.95"/>
<circle cx="509.7" cy="496.14" r="3.6" fill="none" stroke="#FF0000" stroke-width="0.95"/>
<circle cx="511.4" cy="491.65" r="3.6" fill="none" stroke="#FF0000" stroke-width="0.95"/>
<circle cx="513.1" cy="488.38" r="3.6" fill="none" stroke="#FF0000" stroke-width="0.95"/>
<circle cx="514.8" cy="481.72" r="3.6" fill="none" stroke="#FF0000" stroke-width="0.95"/>
<circle cx="516.5" cy="486.69" r="3.6" fill="none" stroke="#FF0000" stroke-width="0.95"/>
<circle cx="518.2" cy="487.81" r="3.6" fill="none" stroke="#FF0000" stroke-width="0.95"/>
<circle cx="519.9" cy="494.58" r="3.6" fill="none" stroke="#FF0000" stroke-width="0.95"/>
<circle cx="521.6" cy="486.05" r="3.6" fill="none" stroke="#FF0000" stroke-width="0.95"/>
<circle cx="523.3" cy="476.56" r="3.6" fill="none" stroke="#FF0000" stroke-width="0.95"/>
<circle cx="525" cy="474.38" r="3.6" fill="none" stroke="#FF0000" stroke-width="0.95"/>
<circle cx="526.7" cy="470.91" r="3.6" fill="none" stroke="#FF0000" stroke-width="0.95"/>
<circle cx="528.4" cy="473.38" r="3.6" fill="none" stroke="#FF0000" stroke-width="0.95"/>
<circle cx="530.1" cy="470.08" r="3.6" fill="none" stroke="#FF0000" stroke-width="0.95"/>
<circle cx="531.8" cy="472.21" r="3.6" fill="none" stroke="#FF0000" stroke-width="0.95"/>
<circle cx="533.5" cy="463.79" r="3.6" fill="none" stroke="#FF0000" stroke-width="0.95"/>
<circle cx="535.2" cy="458.67" r="3.6" fill="none" stroke="#FF0000" stroke-width="0.95"/>
<circle cx="536.9" cy="451.74" r="3.6" fill="none" stroke="#FF0000" stroke-width="0.95"/>
<circle cx="538.6" cy="460.27" r="3.6" fill="none" stroke="#FF0000" stroke-width="0.95"/>
<circle cx="540.3" cy="454.13" r="3.6" fill="none" stroke="#FF0000" stroke-width="0.95"/>
<circle cx="542" cy="444.84" r="3.6" fill="none" stroke="#FF0000" stroke-width="0.95"/>
<circle cx="543.7" cy="445.61" r="3.6" fill="none" stroke="#FF0000" stroke-width="0.95"/>
<circle cx="545.4" cy="442.2" r="3.6" fill="none" stroke="#FF0000" stroke-width="0.95"/>
<circle cx="547.1" cy="463.25" r="3.6" fill="none" stroke="#FF0000" stroke-width="0.95"/>
<circle cx="548.8" cy="463.43" r="3.6" fill="none" stroke="#FF0000" stroke-width="0.95"/>
<circle cx="550.5" cy="459.22" r="3.6" fill="none" stroke="#FF0000" stroke-width="0.95"/>
<circle cx="552.2" cy="452.4" r="3.6" fill="none" stroke="#FF0000" stroke-width="0.95"/>
<circle cx="553.9" cy="442.18" r="3.6" fill="none" stroke="#FF0000" stroke-width="0.95"/>
<circle cx="555.6" cy="445.61" r="3.6" fill="none" stroke="#FF0000" stroke-width="0.95"/>
<circle cx="557.3" cy="442.98" r="3.6" fill="none" stroke="#FF0000" stroke-width="0.95"/>
<circle cx="559" cy="450.38" r="3.6" fill="none" stroke="#FF0000" stroke-width="0.95"/>
<circle cx="560.7" cy="444.14" r="3.6" fill="none" stroke="#FF0000" stroke-width="0.95"/>
<circle cx="562.4" cy="449.73" r="3.6" fill="none" stroke="#FF0000" stroke-width="0.95"/>
<circle cx="564.1" cy="457.83" r="3.6" fill="none" stroke="#FF0000" stroke-width="0.95"/>
<circle cx="565.8" cy="458.92" r="3.6" fill="none" stroke="#FF0000" stroke-width="0.95"/>
<circle cx="567.5" cy="446.82" r="3.6" fill="none" stroke="#FF0000" stroke-width="0.95"/>
<circle cx="569.2" cy="441.63" r="3.6" fill="none" stroke="#FF0000" stroke-width="0.95"/>
<circle cx="570.9" cy="450.42" r="3.6" fill="none" stroke="#FF0000" stroke-width="0.95"/>
<circle cx="572.6" cy="456.74" r="3.6" fill="none" stroke="#FF0000" stroke-width="0.95"/>
<circle cx="574.3" cy="457.99" r="3.6" fill="none" stroke="#FF0000" stroke-width="0.95"/>
<circle cx="576" cy="456.56" r="3.6" fill="none" stroke="#FF0000" stroke-width="0.95"/>
<circle cx="577.7" cy="453.16" r="3.6" fill="none" stroke="#FF0000" stroke-width="0.95"/>
<circle cx="579.4" cy="447.89" r="3.6" fill="none" stroke="#FF0000" stroke-width="0.95"/>
<circle cx="581.1" cy="443.22" r="3.6" fill="none" stroke="#FF0000" stroke-width="0.95"/>
<circle cx="582.8" cy="442.53" r="3.6" fill="none" stroke="#FF0000" stroke-width="0.95"/>
<circle cx="584.5" cy="434.87" r="3.6" fill="none" stroke="#FF0000" stroke-width="0.95"/>
<circle cx="586.2" cy="439.46" r="3.6" fill="none" stroke="#FF0000" stroke-width="0.95"/>
<circle cx="587.9" cy="436.33" r="3.6" fill="none" stroke="#FF0000" stroke-width="0.95"/>
<circle cx="589.6" cy="439.07" r="3.6" fill="none" stroke="#FF0000" stroke-width="0.95"/>
<circle cx="591.3" cy="441.7" r="3.6" fill="none" stroke="#FF0000" stroke-width="0.95"/>
<circle cx="593" cy="451.01" r="3.6" fill="none" stroke="#FF0000" stroke-width="0.95"/>
<circle cx="594.7" cy="447.84" r="3.6" fill="none" stroke="#FF0000" stroke-width="0.95"/>
<circle cx="596.4" cy="440.72" r="3.6" fill="none" stroke="#FF0000" stroke-width="0.95"/>
<circle cx="598.1" cy="441.82" r="3.6" fill="none" stroke="#FF0000" stroke-width="0.95"/>
<circle cx="599.8" cy="447.42" r="3.6" fill="none" stroke="#FF0000" stroke-width="0.95"/>
<circle cx="601.5" cy="452.13" r="3.6" fill="none" stroke="#FF0000" stroke-width="0.95"/>
<circle cx="603.2" cy="459.39" r="3.6" fill="none" stroke="#FF0000" stroke-width="0.95"/>
<circle cx="604.9" cy="453.95" r="3.6" fill="none" stroke="#FF0000" stroke-width="0.95"/>
<circle cx="606.6" cy="448.82" r="3.6" fill="none" stroke="#FF0000" stroke-width="0.95"/>
<circle cx="608.3" cy="448.65" r="3.6" fill="none" stroke="#FF0000" stroke-width="0.95"/>
<circle cx="610" cy="447.6" r="3.6" fill="none" stroke="#FF0000" stroke-width="0.95"/>
<circle cx="611.7" cy="446.89" r="3.6" fill="none" stroke="#FF0000" stroke-width="0.95"/>
<circle cx="613.4" cy="446.61" r="3.6" fill="none" stroke="#FF0000" stroke-width="0.95"/>
<circle cx="615.1" cy="447.65" r="3.6" fill="none" stroke="#FF0000" stroke-width="0.95"/>
<circle cx="616.8" cy="450.08" r="3.6" fill="none" stroke="#FF0000" stroke-width="0.95"/>
<circle cx="618.5" cy="448.82" r="3.6" fill="none" stroke="#FF0000" stroke-width="0.95"/>
<circle cx="620.2" cy="445.37" r="3.6" fill="none" stroke="#FF0000" stroke-width="0.95"/>
<circle cx="621.9" cy="458.18" r="3.6" fill="none" stroke="#FF0000" stroke-width="0.95"/>
<circle cx="623.6" cy="463.38" r="3.6" fill="none" stroke="#FF0000" stroke-width="0.95"/>
<circle cx="625.3" cy="465.53" r="3.6" fill="none" stroke="#FF0000" stroke-width="0.95"/>
<circle cx="627" cy="467.31" r="3.6" fill="none" stroke="#FF0000" stroke-width="0.95"/>
<circle cx="628.7" cy="460.65" r="3.6" fill="none" stroke="#FF0000" stroke-width="0.95"/>
<circle cx="630.4" cy="449.33" r="3.6" fill="none" stroke="#FF0000" stroke-width="0.95"/>
<circle cx="632.1" cy="450.16" r="3.6" fill="none" stroke="#FF0000" stroke-width="0.95"/>
<circle cx="633.8" cy="449.12" r="3.6" fill="none" stroke="#FF0000" stroke-width="0.95"/>
<circle cx="635.5" cy="457.71" r="3.6" fill="none" stroke="#FF0000" stroke-width="0.95"/>
<circle cx="637.2" cy="459.32" r="3.6" fill="none" stroke="#FF0000" stroke-width="0.95"/>
<circle cx="638.9" cy="467.45" r="3.6" fill="none" stroke="#FF0000" stroke-width="0.95"/>
<circle cx="640.6" cy="473.03" r="3.6" fill="none" stroke="#FF0000" stroke-width="0.95"/>
<circle cx="642.3" cy="464.5" r="3.6" fill="none" stroke="#FF0000" stroke-width="0.95"/>
<circle cx="644" cy="468.05" r="3.6" fill="none" stroke="#FF0000" stroke-width="0.95"/>
<circle cx="645.7" cy="459.87" r="3.6" fill="none" stroke="#FF0000" stroke-width="0.95"/>
<circle cx="647.4" cy="467.01" r="3.6" fill="none" stroke="#FF0000" stroke-width="0.95"/>
<circle cx="649.1" cy="476.01" r="3.6" fill="none" stroke="#FF0000" stroke-width="0.95"/>
<circle cx="650.8" cy="483.05" r="3.6" fill="none" stroke="#FF0000" stroke-width="0.95"/>
<circle cx="652.5" cy="486.78" r="3.6" fill="none" stroke="#FF0000" stroke-width="0.95"/>
<circle cx="654.2" cy="488.86" r="3.6" fill="none" stroke="#FF0000" stroke-width="0.95"/>
<circle cx="655.9" cy="477.65" r="3.6" fill="none" stroke="#FF0000" stroke-width="0.95"/>
<circle cx="657.6" cy="476.93" r="3.6" fill="none" stroke="#FF0000" stroke-width="0.95"/>
<circle cx="659.3" cy="468.21" r="3.6" fill="none" stroke="#FF0000" stroke-width="0.95"/>
<circle cx="661" cy="475.31" r="3.6" fill="none" stroke="#FF0000" stroke-width="0.95"/>
<circle cx="662.7" cy="478.98" r="3.6" fill="none" stroke="#FF0000" stroke-width="0.95"/>
<circle cx="664.4" cy="480.84" r="3.6" fill="none" stroke="#FF0000" stroke-width="0.95"/>
<circle cx="666.1" cy="490.56" r="3.6" fill="none" stroke="#FF0000" stroke-width="0.95"/>
<circle cx="667.8" cy="495.36" r="3.6" fill="none" stroke="#FF0000" stroke-width="0.95"/>
<circle cx="669.5" cy="501.73" r="3.6" fill="none" stroke="#FF0000" stroke-width="0.95"/>
<circle cx="671.2" cy="500.8" r="3.6" fill="none" stroke="#FF0000" stroke-width="0.95"/>
<circle cx="672.9" cy="497.33" r="3.6" fill="none" stroke="#FF0000" stroke-width="0.95"/>
<circle cx="674.6" cy="494.06" r="3.6" fill="none" stroke="#FF0000" stroke-width="0.95"/>
<circle cx="676.3" cy="496.36" r="3.6" fill="none" stroke="#FF0000" stroke-width="0.95"/>
<circle cx="678" cy="489.76" r="3.6" fill="none" stroke="#FF0000" stroke-width="0.95"/>
<circle cx="679.7" cy="481.61" r="3.6" fill="none" stroke="#FF0000" stroke-width="0.95"/>
<circle cx="681.4" cy="482.22" r="3.6" fill="none" stroke="#FF0000" stroke-width="0.95"/>
<circle cx="683.1" cy="484.6" r="3.6" fill="none" stroke="#FF0000" stroke-width="0.95"/>
<circle cx="684.8" cy="487.55" r="3.6" fill="none" stroke="#FF0000" stroke-width="0.95"/>
<circle cx="686.5" cy="488.92" r="3.6" fill="none" stroke="#FF0000" stroke-width="0.95"/>
<circle cx="688.2" cy="490.26" r="3.6" fill="none" stroke="#FF0000" stroke-width="0.95"/>
<circle cx="472.3" cy="559.23" r="3.6" fill="none" stroke="#1A50FF" stroke-width="0.95"/>
<circle cx="474" cy="561.08" r="3.6" fill="none" stroke="#1A50FF" stroke-width="0.95"/>
<circle cx="475.7" cy="567.29" r="3.6" fill="none" stroke="#1A50FF" stroke-width="0.95"/>
<circle cx="477.4" cy="561.3" r="3.6" fill="none" stroke="#1A50FF" stroke-width="0.95"/>
<circle cx="479.1" cy="554.64" r="3.6" fill="none" stroke="#1A50FF" stroke-width="0.95"/>
<circle cx="480.8" cy="548.52" r="3.6" fill="none" stroke="#1A50FF" stroke-width="0.95"/>
<circle cx="482.5" cy="544.01" r="3.6" fill="none" stroke="#1A50FF" stroke-width="0.95"/>
<circle cx="484.2" cy="539.54" r="3.6" fill="none" stroke="#1A50FF" stroke-width="0.95"/>
<circle cx="485.9" cy="529.35" r="3.6" fill="none" stroke="#1A50FF" stroke-width="0.95"/>
<circle cx="487.6" cy="523.44" r="3.6" fill="none" stroke="#1A50FF" stroke-width="0.95"/>
<circle cx="489.3" cy="516.52" r="3.6" fill="none" stroke="#1A50FF" stroke-width="0.95"/>
<circle cx="491" cy="507.45" r="3.6" fill="none" stroke="#1A50FF" stroke-width="0.95"/>
<circle cx="492.7" cy="501.18" r="3.6" fill="none" stroke="#1A50FF" stroke-width="0.95"/>
<circle cx="494.4" cy="495.42" r="3.6" fill="none" stroke="#1A50FF" stroke-width="0.95"/>
<circle cx="496.1" cy="491.41" r="3.6" fill="none" stroke="#1A50FF" stroke-width="0.95"/>
<circle cx="497.8" cy="492.64" r="3.6" fill="none" stroke="#1A50FF" stroke-width="0.95"/>
<circle cx="499.5" cy="478.26" r="3.6" fill="none" stroke="#1A50FF" stroke-width="0.95"/>
<circle cx="501.2" cy="477.73" r="3.6" fill="none" stroke="#1A50FF" stroke-width="0.95"/>
<circle cx="502.9" cy="472.37" r="3.6" fill="none" stroke="#1A50FF" stroke-width="0.95"/>
<circle cx="504.6" cy="468.94" r="3.6" fill="none" stroke="#1A50FF" stroke-width="0.95"/>
<circle cx="506.3" cy="469.95" r="3.6" fill="none" stroke="#1A50FF" stroke-width="0.95"/>
<circle cx="508" cy="471.78" r="3.6" fill="none" stroke="#1A50FF" stroke-width="0.95"/>
<circle cx="509.7" cy="465.73" r="3.6" fill="none" stroke="#1A50FF" stroke-width="0.95"/>
<circle cx="511.4" cy="460.11" r="3.6" fill="none" stroke="#1A50FF" stroke-width="0.95"/>
<circle cx="513.1" cy="446.12" r="3.6" fill="none" stroke="#1A50FF" stroke-width="0.95"/>
<circle cx="514.8" cy="430.46" r="3.6" fill="none" stroke="#1A50FF" stroke-width="0.95"/>
<circle cx="516.5" cy="429.17" r="3.6" fill="none" stroke="#1A50FF" stroke-width="0.95"/>
<circle cx="518.2" cy="421.78" r="3.6" fill="none" stroke="#1A50FF" stroke-width="0.95"/>
<circle cx="519.9" cy="415.89" r="3.6" fill="none" stroke="#1A50FF" stroke-width="0.95"/>
<circle cx="521.6" cy="410.02" r="3.6" fill="none" stroke="#1A50FF" stroke-width="0.95"/>
<circle cx="523.3" cy="399.42" r="3.6" fill="none" stroke="#1A50FF" stroke-width="0.95"/>
<circle cx="525" cy="395.29" r="3.6" fill="none" stroke="#1A50FF" stroke-width="0.95"/>
<circle cx="526.7" cy="399.62" r="3.6" fill="none" stroke="#1A50FF" stroke-width="0.95"/>
<circle cx="528.4" cy="397.37" r="3.6" fill="none" stroke="#1A50FF" stroke-width="0.95"/>
<circle cx="530.1" cy="395.51" r="3.6" fill="none" stroke="#1A50FF" stroke-width="0.95"/>
<circle cx="531.8" cy="399.59" r="3.6" fill="none" stroke="#1A50FF" stroke-width="0.95"/>
<circle cx="533.5" cy="390.59" r="3.6" fill="none" stroke="#1A50FF" stroke-width="0.95"/>
<circle cx="535.2" cy="390.76" r="3.6" fill="none" stroke="#1A50FF" stroke-width="0.95"/>
<circle cx="536.9" cy="389.22" r="3.6" fill="none" stroke="#1A50FF" stroke-width="0.95"/>
<circle cx="538.6" cy="381.45" r="3.6" fill="none" stroke="#1A50FF" stroke-width="0.95"/>
<circle cx="540.3" cy="378.93" r="3.6" fill="none" stroke="#1A50FF" stroke-width="0.95"/>
<circle cx="542" cy="375.36" r="3.6" fill="none" stroke="#1A50FF" stroke-width="0.95"/>
<circle cx="543.7" cy="375.37" r="3.6" fill="none" stroke="#1A50FF" stroke-width="0.95"/>
<circle cx="545.4" cy="373.03" r="3.6" fill="none" stroke="#1A50FF" stroke-width="0.95"/>
<circle cx="547.1" cy="363.11" r="3.6" fill="none" stroke="#1A50FF" stroke-width="0.95"/>
<circle cx="548.8" cy="365.63" r="3.6" fill="none" stroke="#1A50FF" stroke-width="0.95"/>
<circle cx="550.5" cy="358.5" r="3.6" fill="none" stroke="#1A50FF" stroke-width="0.95"/>
<circle cx="552.2" cy="358.89" r="3.6" fill="none" stroke="#1A50FF" stroke-width="0.95"/>
<circle cx="553.9" cy="363.17" r="3.6" fill="none" stroke="#1A50FF" stroke-width="0.95"/>
<circle cx="555.6" cy="368.45" r="3.6" fill="none" stroke="#1A50FF" stroke-width="0.95"/>
<circle cx="557.3" cy="364.03" r="3.6" fill="none" stroke="#1A50FF" stroke-width="0.95"/>
<circle cx="559" cy="364.01" r="3.6" fill="none" stroke="#1A50FF" stroke-width="0.95"/>
<circle cx="560.7" cy="361.06" r="3.6" fill="none" stroke="#1A50FF" stroke-width="0.95"/>
<circle cx="562.4" cy="359.96" r="3.6" fill="none" stroke="#1A50FF" stroke-width="0.95"/>
<circle cx="564.1" cy="358.53" r="3.6" fill="none" stroke="#1A50FF" stroke-width="0.95"/>
<circle cx="565.8" cy="351.63" r="3.6" fill="none" stroke="#1A50FF" stroke-width="0.95"/>
<circle cx="567.5" cy="337.9" r="3.6" fill="none" stroke="#1A50FF" stroke-width="0.95"/>
<circle cx="569.2" cy="332.01" r="3.6" fill="none" stroke="#1A50FF" stroke-width="0.95"/>
<circle cx="570.9" cy="337.78" r="3.6" fill="none" stroke="#1A50FF" stroke-width="0.95"/>
<circle cx="572.6" cy="338.74" r="3.6" fill="none" stroke="#1A50FF" stroke-width="0.95"/>
<circle cx="574.3" cy="348.68" r="3.6" fill="none" stroke="#1A50FF" stroke-width="0.95"/>
<circle cx="576" cy="349.07" r="3.6" fill="none" stroke="#1A50FF" stroke-width="0.95"/>
<circle cx="577.7" cy="349.98" r="3.6" fill="none" stroke="#1A50FF" stroke-width="0.95"/>
<circle cx="579.4" cy="357.38" r="3.6" fill="none" stroke="#1A50FF" stroke-width="0.95"/>
<circle cx="581.1" cy="353.79" r="3.6" fill="none" stroke="#1A50FF" stroke-width="0.95"/>
<circle cx="582.8" cy="345.62" r="3.6" fill="none" stroke="#1A50FF" stroke-width="0.95"/>
<circle cx="584.5" cy="345.33" r="3.6" fill="none" stroke="#1A50FF" stroke-width="0.95"/>
<circle cx="586.2" cy="343.99" r="3.6" fill="none" stroke="#1A50FF" stroke-width="0.95"/>
<circle cx="587.9" cy="348.12" r="3.6" fill="none" stroke="#1A50FF" stroke-width="0.95"/>
<circle cx="589.6" cy="351.88" r="3.6" fill="none" stroke="#1A50FF" stroke-width="0.95"/>
<circle cx="591.3" cy="354.11" r="3.6" fill="none" stroke="#1A50FF" stroke-width="0.95"/>
<circle cx="593" cy="354.78" r="3.6" fill="none" stroke="#1A50FF" stroke-width="0.95"/>
<circle cx="594.7" cy="351.49" r="3.6" fill="none" stroke="#1A50FF" stroke-width="0.95"/>
<circle cx="596.4" cy="350.93" r="3.6" fill="none" stroke="#1A50FF" stroke-width="0.95"/>
<circle cx="598.1" cy="368.75" r="3.6" fill="none" stroke="#1A50FF" stroke-width="0.95"/>
<circle cx="599.8" cy="375.08" r="3.6" fill="none" stroke="#1A50FF" stroke-width="0.95"/>
<circle cx="601.5" cy="368" r="3.6" fill="none" stroke="#1A50FF" stroke-width="0.95"/>
<circle cx="603.2" cy="355.15" r="3.6" fill="none" stroke="#1A50FF" stroke-width="0.95"/>
<circle cx="604.9" cy="346.89" r="3.6" fill="none" stroke="#1A50FF" stroke-width="0.95"/>
<circle cx="606.6" cy="346.9" r="3.6" fill="none" stroke="#1A50FF" stroke-width="0.95"/>
<circle cx="608.3" cy="342.79" r="3.6" fill="none" stroke="#1A50FF" stroke-width="0.95"/>
<circle cx="610" cy="350.38" r="3.6" fill="none" stroke="#1A50FF" stroke-width="0.95"/>
<circle cx="611.7" cy="349.52" r="3.6" fill="none" stroke="#1A50FF" stroke-width="0.95"/>
<circle cx="613.4" cy="358.48" r="3.6" fill="none" stroke="#1A50FF" stroke-width="0.95"/>
<circle cx="615.1" cy="361.95" r="3.6" fill="none" stroke="#1A50FF" stroke-width="0.95"/>
<circle cx="616.8" cy="362.87" r="3.6" fill="none" stroke="#1A50FF" stroke-width="0.95"/>
<circle cx="618.5" cy="365.43" r="3.6" fill="none" stroke="#1A50FF" stroke-width="0.95"/>
<circle cx="620.2" cy="361.25" r="3.6" fill="none" stroke="#1A50FF" stroke-width="0.95"/>
<circle cx="621.9" cy="367.56" r="3.6" fill="none" stroke="#1A50FF" stroke-width="0.95"/>
<circle cx="623.6" cy="362.8" r="3.6" fill="none" stroke="#1A50FF" stroke-width="0.95"/>
<circle cx="625.3" cy="363.76" r="3.6" fill="none" stroke="#1A50FF" stroke-width="0.95"/>
<circle cx="627" cy="366.04" r="3.6" fill="none" stroke="#1A50FF" stroke-width="0.95"/>
<circle cx="628.7" cy="355.67" r="3.6" fill="none" stroke="#1A50FF" stroke-width="0.95"/>
<circle cx="630.4" cy="350.4" r="3.6" fill="none" stroke="#1A50FF" stroke-width="0.95"/>
<circle cx="632.1" cy="346.69" r="3.6" fill="none" stroke="#1A50FF" stroke-width="0.95"/>
<circle cx="633.8" cy="352" r="3.6" fill="none" stroke="#1A50FF" stroke-width="0.95"/>
<circle cx="635.5" cy="349.03" r="3.6" fill="none" stroke="#1A50FF" stroke-width="0.95"/>
<circle cx="637.2" cy="364.16" r="3.6" fill="none" stroke="#1A50FF" stroke-width="0.95"/>
<circle cx="638.9" cy="376.53" r="3.6" fill="none" stroke="#1A50FF" stroke-width="0.95"/>
<circle cx="640.6" cy="377.02" r="3.6" fill="none" stroke="#1A50FF" stroke-width="0.95"/>
<circle cx="642.3" cy="375.58" r="3.6" fill="none" stroke="#1A50FF" stroke-width="0.95"/>
<circle cx="644" cy="372.9" r="3.6" fill="none" stroke="#1A50FF" stroke-width="0.95"/>
<circle cx="645.7" cy="371.96" r="3.6" fill="none" stroke="#1A50FF" stroke-width="0.95"/>
<circle cx="647.4" cy="367.85" r="3.6" fill="none" stroke="#1A50FF" stroke-width="0.95"/>
<circle cx="649.1" cy="367.92" r="3.6" fill="none" stroke="#1A50FF" stroke-width="0.95"/>
<circle cx="650.8" cy="368.32" r="3.6" fill="none" stroke="#1A50FF" stroke-width="0.95"/>
<circle cx="652.5" cy="376.53" r="3.6" fill="none" stroke="#1A50FF" stroke-width="0.95"/>
<circle cx="654.2" cy="386.37" r="3.6" fill="none" stroke="#1A50FF" stroke-width="0.95"/>
<circle cx="655.9" cy="383.53" r="3.6" fill="none" stroke="#1A50FF" stroke-width="0.95"/>
<circle cx="657.6" cy="381.17" r="3.6" fill="none" stroke="#1A50FF" stroke-width="0.95"/>
<circle cx="659.3" cy="390.53" r="3.6" fill="none" stroke="#1A50FF" stroke-width="0.95"/>
<circle cx="661" cy="390.11" r="3.6" fill="none" stroke="#1A50FF" stroke-width="0.95"/>
<circle cx="662.7" cy="396.84" r="3.6" fill="none" stroke="#1A50FF" stroke-width="0.95"/>
<circle cx="664.4" cy="397.82" r="3.6" fill="none" stroke="#1A50FF" stroke-width="0.95"/>
<circle cx="666.1" cy="395.93" r="3.6" fill="none" stroke="#1A50FF" stroke-width="0.95"/>
<circle cx="667.8" cy="392.86" r="3.6" fill="none" stroke="#1A50FF" stroke-width="0.95"/>
<circle cx="669.5" cy="394.19" r="3.6" fill="none" stroke="#1A50FF" stroke-width="0.95"/>
<circle cx="671.2" cy="401.21" r="3.6" fill="none" stroke="#1A50FF" stroke-width="0.95"/>
<circle cx="672.9" cy="394.64" r="3.6" fill="none" stroke="#1A50FF" stroke-width="0.95"/>
<circle cx="674.6" cy="396.55" r="3.6" fill="none" stroke="#1A50FF" stroke-width="0.95"/>
<circle cx="676.3" cy="397.59" r="3.6" fill="none" stroke="#1A50FF" stroke-width="0.95"/>
<circle cx="678" cy="394.37" r="3.6" fill="none" stroke="#1A50FF" stroke-width="0.95"/>
<circle cx="679.7" cy="399.74" r="3.6" fill="none" stroke="#1A50FF" stroke-width="0.95"/>
<circle cx="681.4" cy="405.8" r="3.6" fill="none" stroke="#1A50FF" stroke-width="0.95"/>
<circle cx="683.1" cy="401.13" r="3.6" fill="none" stroke="#1A50FF" stroke-width="0.95"/>
<circle cx="684.8" cy="406.5" r="3.6" fill="none" stroke="#1A50FF" stroke-width="0.95"/>
<circle cx="686.5" cy="411.36" r="3.6" fill="none" stroke="#1A50FF" stroke-width="0.95"/>
<circle cx="688.2" cy="413.58" r="3.6" fill="none" stroke="#1A50FF" stroke-width="0.95"/>
<circle cx="689.9" cy="416.9" r="3.6" fill="none" stroke="#1A50FF" stroke-width="0.95"/>
<line x1="839.5" y1="407.8" x2="839.5" y2="547.9" stroke="#000" stroke-width="1.5"/>
<line x1="830" y1="545.4" x2="839.5" y2="545.4" stroke="#000" stroke-width="1.5"/>
<text x="-25.67" y="0" font-size="19" fill="#000" transform="translate(823.8 551.4) scale(1 1.04)">0.0</text>
<line x1="830" y1="453.6" x2="839.5" y2="453.6" stroke="#000" stroke-width="1.5"/>
<text x="-25.46" y="0" font-size="19" fill="#000" transform="translate(823.8 459.6) scale(1 1.04)">0.2</text>
<line x1="834.4" y1="499.5" x2="839.5" y2="499.5" stroke="#000" stroke-width="1.5"/>
<line x1="834.4" y1="407.7" x2="839.5" y2="407.7" stroke="#000" stroke-width="1.5"/>
<line x1="838.8" y1="547.2" x2="1036.5" y2="547.2" stroke="#000" stroke-width="1.5"/>
<line x1="841" y1="547.2" x2="841" y2="556.5" stroke="#000" stroke-width="1.5"/>
<line x1="906.4" y1="547.2" x2="906.4" y2="556.5" stroke="#000" stroke-width="1.5"/>
<line x1="971" y1="547.2" x2="971" y2="556.5" stroke="#000" stroke-width="1.5"/>
<line x1="1035.9" y1="547.2" x2="1035.9" y2="556.5" stroke="#000" stroke-width="1.5"/>
<rect x="845.9" y="529.2" width="57.4" height="15.4" fill="#fff" stroke="#000" stroke-width="1.5"/>
<rect x="847.65" y="530.95" width="53.9" height="11.9" fill="#DDE5FA"/>
<rect x="910.6" y="488" width="57.4" height="56.6" fill="#fff" stroke="#000" stroke-width="1.5"/>
<rect x="912.35" y="489.75" width="53.9" height="53.1" fill="#DDE5FA"/>
<rect x="975.4" y="439.3" width="56.6" height="105.3" fill="#fff" stroke="#000" stroke-width="1.5"/>
<rect x="977.15" y="441.05" width="53.1" height="101.8" fill="#DDE5FA"/>
<line x1="874.2" y1="521.5" x2="874.2" y2="535.4" stroke="#000" stroke-width="1.4"/>
<line x1="871.6" y1="521.5" x2="876.8" y2="521.5" stroke="#000" stroke-width="1.4"/>
<line x1="871.6" y1="535.4" x2="876.8" y2="535.4" stroke="#000" stroke-width="1.4"/>
<line x1="938.9" y1="470.7" x2="938.9" y2="503.8" stroke="#000" stroke-width="1.4"/>
<line x1="936.3" y1="470.7" x2="941.5" y2="470.7" stroke="#000" stroke-width="1.4"/>
<line x1="936.3" y1="503.8" x2="941.5" y2="503.8" stroke="#000" stroke-width="1.4"/>
<line x1="1004.3" y1="424.5" x2="1004.3" y2="453" stroke="#000" stroke-width="1.4"/>
<line x1="1001.7" y1="424.5" x2="1006.9" y2="424.5" stroke="#000" stroke-width="1.4"/>
<line x1="1001.7" y1="453" x2="1006.9" y2="453" stroke="#000" stroke-width="1.4"/>
<text x="-12.22" y="0" font-size="20" fill="#000" transform="translate(875.7 509) scale(1 1.04)">(4)</text>
<text x="-12.22" y="0" font-size="20" fill="#000" transform="translate(938.9 460) scale(1 1.04)">(4)</text>
<text x="-12.22" y="0" font-size="20" fill="#000" transform="translate(1004.5 412.6) scale(1 1.04)">(4)</text>
<polyline points="873.3,465.9 873.3,418.4 938.9,418.4 938.9,427.2" fill="none" stroke="#444" stroke-width="1.1" stroke-linejoin="round" stroke-linejoin="miter" stroke-linecap="butt"/>
<polyline points="873.3,390.7 873.3,364.9 1003.4,364.9 1003.4,381.2" fill="none" stroke="#444" stroke-width="1.1" stroke-linejoin="round" stroke-linejoin="miter" stroke-linecap="butt"/>
<text x="-0.52" y="0" font-size="17" fill="#000" transform="translate(871.5 412.8) scale(1 1.04)" font-style="italic">P = 0.015</text>
<text x="-0.52" y="0" font-size="17" fill="#000" transform="translate(898.9 359.8) scale(1 1.04)" font-style="italic">P = 1.3E-3</text>
<text x="0" y="0" font-size="23.6" text-anchor="start" fill="#000" transform="translate(751 542.6) rotate(-90)"><tspan>Maximal ATP</tspan></text>
<text x="0" y="0" font-size="23.4" text-anchor="start" fill="#000" transform="translate(772.5 554.7) rotate(-90)"><tspan>increase (ΔL/L)</tspan></text>
<text x="-32.93" y="0" font-size="21.5" fill="#000" transform="translate(876.5 564) rotate(-45) scale(1 1.04)">WT</text>
<text x="-67.06" y="0" font-size="21.5" fill="#000" transform="translate(942 564) rotate(-45) scale(1 1.04)">M1-KO</text>
<text x="-67.06" y="0" font-size="21.5" fill="#000" transform="translate(1007 564) rotate(-45) scale(1 1.04)">M2-KO</text>
<line x1="180" y1="685" x2="180" y2="956.9" stroke="#000" stroke-width="1.5"/>
<line x1="169.5" y1="948.1" x2="180" y2="948.1" stroke="#000" stroke-width="1.5"/>
<text x="-10.6" y="0" font-size="20.5" fill="#000" transform="translate(163.3 954.4) scale(1.1 1.04)">0</text>
<line x1="169.5" y1="860.5" x2="180" y2="860.5" stroke="#000" stroke-width="1.5"/>
<text x="-33.4" y="0" font-size="20.5" fill="#000" transform="translate(163.3 866.8) scale(1.1 1.04)">100</text>
<line x1="169.5" y1="772.9" x2="180" y2="772.9" stroke="#000" stroke-width="1.5"/>
<text x="-33.4" y="0" font-size="20.5" fill="#000" transform="translate(163.3 779.2) scale(1.1 1.04)">200</text>
<line x1="169.5" y1="685.3" x2="180" y2="685.3" stroke="#000" stroke-width="1.5"/>
<text x="-33.4" y="0" font-size="20.5" fill="#000" transform="translate(163.3 691.6) scale(1.1 1.04)">300</text>
<line x1="174" y1="904.3" x2="180" y2="904.3" stroke="#000" stroke-width="1.5"/>
<line x1="174" y1="816.7" x2="180" y2="816.7" stroke="#000" stroke-width="1.5"/>
<line x1="174" y1="729.1" x2="180" y2="729.1" stroke="#000" stroke-width="1.5"/>
<line x1="179.3" y1="956.2" x2="455.3" y2="956.2" stroke="#000" stroke-width="1.5"/>
<line x1="187.9" y1="956.2" x2="187.9" y2="966.8" stroke="#000" stroke-width="1.5"/>
<text x="-5.7" y="0" font-size="20.5" fill="#000" transform="translate(187.9 989.8) scale(1.1 1.04)">0</text>
<line x1="277.2" y1="956.2" x2="277.2" y2="966.8" stroke="#000" stroke-width="1.5"/>
<text x="-11.41" y="0" font-size="20.5" fill="#000" transform="translate(277.2 989.8) scale(1.1 1.04)">50</text>
<line x1="366.5" y1="956.2" x2="366.5" y2="966.8" stroke="#000" stroke-width="1.5"/>
<text x="-17.48" y="0" font-size="20.5" fill="#000" transform="translate(366.5 989.8) scale(1.1 1.04)">100</text>
<line x1="455.8" y1="956.2" x2="455.8" y2="966.8" stroke="#000" stroke-width="1.5"/>
<text x="-17.48" y="0" font-size="20.5" fill="#000" transform="translate(455.8 989.8) scale(1.1 1.04)">150</text>
<line x1="232.55" y1="956.2" x2="232.55" y2="962.5" stroke="#000" stroke-width="1.5"/>
<line x1="321.85" y1="956.2" x2="321.85" y2="962.5" stroke="#000" stroke-width="1.5"/>
<line x1="411.15" y1="956.2" x2="411.15" y2="962.5" stroke="#000" stroke-width="1.5"/>
<text x="0" y="0" font-size="22" text-anchor="start" fill="#000" transform="translate(164.5 1024) scale(1 1.04)"><tspan>Cytoplasmic Ca</tspan><tspan font-size="15" dy="-11.5">2+</tspan><tspan dy="11.5"> increase (nM)</tspan></text>
<text x="0" y="0" font-size="26.5" text-anchor="start" fill="#000" transform="translate(106.8 968.5) rotate(-90) scale(1 1.04)"><tspan>Matrix Ca</tspan><tspan font-size="19" dy="-13.5">2+</tspan><tspan dy="13.5"> increase (nM)</tspan></text>
<polyline points="187.9,948.1 242.02,945.47 325.42,917.44 346.85,896.42 384.36,876.27" fill="none" stroke="#000" stroke-width="1.5" stroke-linejoin="round"/>
<line x1="230" y1="945.47" x2="254.1" y2="945.47" stroke="#000" stroke-width="1.4"/>
<line x1="230" y1="942.67" x2="230" y2="948.27" stroke="#000" stroke-width="1.4"/>
<line x1="254.1" y1="942.67" x2="254.1" y2="948.27" stroke="#000" stroke-width="1.4"/>
<line x1="311.2" y1="917.44" x2="339.5" y2="917.44" stroke="#000" stroke-width="1.4"/>
<line x1="311.2" y1="914.64" x2="311.2" y2="920.24" stroke="#000" stroke-width="1.4"/>
<line x1="339.5" y1="914.64" x2="339.5" y2="920.24" stroke="#000" stroke-width="1.4"/>
<line x1="325.42" y1="911.5" x2="325.42" y2="922.5" stroke="#000" stroke-width="1.4"/>
<line x1="322.62" y1="911.5" x2="328.22" y2="911.5" stroke="#000" stroke-width="1.4"/>
<line x1="322.62" y1="922.5" x2="328.22" y2="922.5" stroke="#000" stroke-width="1.4"/>
<line x1="333.7" y1="896.42" x2="359.6" y2="896.42" stroke="#000" stroke-width="1.4"/>
<line x1="333.7" y1="893.62" x2="333.7" y2="899.22" stroke="#000" stroke-width="1.4"/>
<line x1="359.6" y1="893.62" x2="359.6" y2="899.22" stroke="#000" stroke-width="1.4"/>
<line x1="346.85" y1="876.9" x2="346.85" y2="915.5" stroke="#000" stroke-width="1.4"/>
<line x1="344.05" y1="876.9" x2="349.65" y2="876.9" stroke="#000" stroke-width="1.4"/>
<line x1="344.05" y1="915.5" x2="349.65" y2="915.5" stroke="#000" stroke-width="1.4"/>
<line x1="368.8" y1="876.27" x2="400.5" y2="876.27" stroke="#000" stroke-width="1.4"/>
<line x1="368.8" y1="873.47" x2="368.8" y2="879.07" stroke="#000" stroke-width="1.4"/>
<line x1="400.5" y1="873.47" x2="400.5" y2="879.07" stroke="#000" stroke-width="1.4"/>
<line x1="384.36" y1="870.5" x2="384.36" y2="881.5" stroke="#000" stroke-width="1.4"/>
<line x1="381.56" y1="870.5" x2="387.16" y2="870.5" stroke="#000" stroke-width="1.4"/>
<line x1="381.56" y1="881.5" x2="387.16" y2="881.5" stroke="#000" stroke-width="1.4"/>
<rect x="182.8" y="943" width="10.2" height="10.2" fill="none" stroke="#000" stroke-width="1.5"/>
<rect x="236.92" y="940.37" width="10.2" height="10.2" fill="none" stroke="#000" stroke-width="1.5"/>
<rect x="320.32" y="912.34" width="10.2" height="10.2" fill="none" stroke="#000" stroke-width="1.5"/>
<rect x="341.75" y="891.32" width="10.2" height="10.2" fill="none" stroke="#000" stroke-width="1.5"/>
<rect x="379.26" y="871.17" width="10.2" height="10.2" fill="none" stroke="#000" stroke-width="1.5"/>
<polyline points="187.9,948.1 241.48,932.77 299.17,832.47 384.36,745.74 414.72,723.84" fill="none" stroke="#1040FF" stroke-width="1.5" stroke-linejoin="round"/>
<line x1="214.7" y1="932.77" x2="268" y2="932.77" stroke="#1040FF" stroke-width="1.4"/>
<line x1="214.7" y1="929.97" x2="214.7" y2="935.57" stroke="#1040FF" stroke-width="1.4"/>
<line x1="268" y1="929.97" x2="268" y2="935.57" stroke="#1040FF" stroke-width="1.4"/>
<line x1="241.48" y1="922.7" x2="241.48" y2="944.5" stroke="#1040FF" stroke-width="1.4"/>
<line x1="238.68" y1="922.7" x2="244.28" y2="922.7" stroke="#1040FF" stroke-width="1.4"/>
<line x1="238.68" y1="944.5" x2="244.28" y2="944.5" stroke="#1040FF" stroke-width="1.4"/>
<line x1="279.5" y1="832.47" x2="318.4" y2="832.47" stroke="#1040FF" stroke-width="1.4"/>
<line x1="279.5" y1="829.67" x2="279.5" y2="835.27" stroke="#1040FF" stroke-width="1.4"/>
<line x1="318.4" y1="829.67" x2="318.4" y2="835.27" stroke="#1040FF" stroke-width="1.4"/>
<line x1="299.17" y1="806.3" x2="299.17" y2="857.9" stroke="#1040FF" stroke-width="1.4"/>
<line x1="296.37" y1="806.3" x2="301.97" y2="806.3" stroke="#1040FF" stroke-width="1.4"/>
<line x1="296.37" y1="857.9" x2="301.97" y2="857.9" stroke="#1040FF" stroke-width="1.4"/>
<line x1="357.9" y1="745.74" x2="412.7" y2="745.74" stroke="#1040FF" stroke-width="1.4"/>
<line x1="357.9" y1="742.94" x2="357.9" y2="748.54" stroke="#1040FF" stroke-width="1.4"/>
<line x1="412.7" y1="742.94" x2="412.7" y2="748.54" stroke="#1040FF" stroke-width="1.4"/>
<line x1="384.36" y1="718.1" x2="384.36" y2="770.9" stroke="#1040FF" stroke-width="1.4"/>
<line x1="381.56" y1="718.1" x2="387.16" y2="718.1" stroke="#1040FF" stroke-width="1.4"/>
<line x1="381.56" y1="770.9" x2="387.16" y2="770.9" stroke="#1040FF" stroke-width="1.4"/>
<line x1="381.8" y1="723.84" x2="448.1" y2="723.84" stroke="#1040FF" stroke-width="1.4"/>
<line x1="381.8" y1="721.04" x2="381.8" y2="726.64" stroke="#1040FF" stroke-width="1.4"/>
<line x1="448.1" y1="721.04" x2="448.1" y2="726.64" stroke="#1040FF" stroke-width="1.4"/>
<line x1="414.72" y1="694.5" x2="414.72" y2="752.1" stroke="#1040FF" stroke-width="1.4"/>
<line x1="411.92" y1="694.5" x2="417.52" y2="694.5" stroke="#1040FF" stroke-width="1.4"/>
<line x1="411.92" y1="752.1" x2="417.52" y2="752.1" stroke="#1040FF" stroke-width="1.4"/>
<rect x="182.8" y="943" width="10.2" height="10.2" fill="none" stroke="#1040FF" stroke-width="1.5"/>
<rect x="236.38" y="927.67" width="10.2" height="10.2" fill="none" stroke="#1040FF" stroke-width="1.5"/>
<rect x="294.07" y="827.37" width="10.2" height="10.2" fill="none" stroke="#1040FF" stroke-width="1.5"/>
<rect x="379.26" y="740.64" width="10.2" height="10.2" fill="none" stroke="#1040FF" stroke-width="1.5"/>
<rect x="409.62" y="718.74" width="10.2" height="10.2" fill="none" stroke="#1040FF" stroke-width="1.5"/>
<line x1="184.9" y1="948.1" x2="190.9" y2="948.1" stroke="#1040FF" stroke-width="1.3"/>
<line x1="187.9" y1="945.1" x2="187.9" y2="951.1" stroke="#1040FF" stroke-width="1.3"/>
<rect x="192.5" y="698" width="12.1" height="12.3" fill="none" stroke="#0000FF" stroke-width="1.4"/>
<text x="-2.13" y="0" font-size="26" fill="#0000FF" transform="translate(220.4 712.7) scale(1 1.04)">MICU2-KO</text>
<rect x="192.5" y="735.7" width="12.1" height="12.3" fill="none" stroke="#000" stroke-width="1.4"/>
<text x="-0.11" y="0" font-size="26" fill="#000" transform="translate(220.5 749.6) scale(1 1.04)">WT</text>
<text x="-1.81" y="0" font-size="27" fill="#0000FF" transform="translate(363 736.3) scale(1 1.04)">i</text>
<text x="-1.81" y="0" font-size="27" fill="#0000FF" transform="translate(288.7 801.2) scale(1 1.04)">ii</text>
<text x="-1.81" y="0" font-size="27" fill="#0000FF" transform="translate(339 867.3) scale(1 1.04)">iii</text>
<text x="-1.81" y="0" font-size="27" fill="#0000FF" transform="translate(371.7 865.3) scale(1 1.04)">iv</text>
<path d="M589,889.3 C589.52,889.7 590.46,892.1 591.6,891.3 C592.74,890.5 593.58,884.72 594.7,885.3 C595.82,885.88 596.08,894.06 597.2,894.2 C598.32,894.34 599.08,885.76 600.3,886 C601.52,886.24 602.1,896.52 603.3,895.4 C604.5,894.28 605.46,886.28 606.3,880.4 C607.14,874.52 607,874.12 607.5,866 C608,857.88 607.84,855.18 608.8,839.8 C609.76,824.42 610.92,807.54 612.3,789.1 C613.68,770.66 614.56,760.04 615.7,747.6 C616.84,735.16 616.94,733.82 618,726.9 C619.06,719.98 619.6,717.62 621,713 C622.4,708.38 623.42,707.58 625,703.8 C626.58,700.02 627.52,696.18 628.9,694.1 C630.28,692.02 630.98,693.38 631.9,693.4 C632.82,693.42 632.82,694.2 633.5,694.2 C634.18,694.2 633.92,691.7 635.3,693.4 C636.68,695.1 638.08,698.08 640.4,702.7 C642.72,707.32 644.68,711.2 646.9,716.5 C649.12,721.8 649.2,723.9 651.5,729.2 C653.8,734.5 655.4,736.1 658.4,743 C661.4,749.9 663.5,754.94 666.5,763.7 C669.5,772.46 670.64,779.18 673.4,786.8 C676.16,794.42 677.3,796.26 680.3,801.8 C683.3,807.34 685.4,809.66 688.4,814.5 C691.4,819.34 692.08,821.4 695.3,826 C698.52,830.6 701.28,832.9 704.5,837.5 C707.72,842.1 708.64,845.08 711.4,849 C714.16,852.92 715.54,853.64 718.3,857.1 C721.06,860.56 723.06,864.36 725.2,866.3 C727.34,868.24 727.14,865.74 729,866.8 C730.86,867.86 731.56,869.62 734.5,871.6 C737.44,873.58 741,875.24 743.7,876.7 C746.4,878.16 746.16,878.34 748,878.9 C749.84,879.46 751.92,879.38 752.9,879.5" fill="none" stroke="#000" stroke-width="1.9" stroke-linejoin="round" stroke-linecap="round"/>
<path d="M801.1,888.2 C802.26,889.5 804.82,893.76 806.9,894.7 C808.98,895.64 809.66,895.58 811.5,892.9 C813.34,890.22 814.02,887.76 816.1,881.3 C818.18,874.84 819.6,871.2 821.9,860.6 C824.2,850 825.3,840.76 827.6,828.3 C829.9,815.84 831.08,807.3 833.4,798.3 C835.72,789.3 837.04,787.44 839.2,783.3 C841.36,779.16 842.14,777.82 844.2,777.6 C846.26,777.38 847.28,779.06 849.5,782.2 C851.72,785.34 852.76,789.62 855.3,793.3 C857.84,796.98 859.9,797.52 862.2,800.6 C864.5,803.68 864.96,805.7 866.8,808.7 C868.64,811.7 869.08,810.3 871.4,815.6 C873.72,820.9 875.16,828.74 878.4,835.2 C881.64,841.66 883.92,843.98 887.6,847.9 C891.28,851.82 893.58,852.26 896.8,854.8 C900.02,857.34 901.4,858.76 903.7,860.6 C906,862.44 906.46,863.78 908.3,864 C910.14,864.22 911.06,861.46 912.9,861.7 C914.74,861.94 914.72,863.34 917.5,865.2 C920.28,867.06 924.48,871.92 926.8,871 C929.12,870.08 928.18,859.22 929.1,860.6 C930.02,861.98 930.94,874.44 931.4,877.9" fill="none" stroke="#000" stroke-width="1.9" stroke-linejoin="round" stroke-linecap="round"/>
<path d="M590.5,1011.6 C590.92,1012.1 591.76,1013.82 592.6,1014.1 C593.44,1014.38 593.86,1012.16 594.7,1013 C595.54,1013.84 595.54,1016.62 596.8,1018.3 C598.06,1019.98 599.54,1021.4 601,1021.4 C602.46,1021.4 602.86,1021.02 604.1,1018.3 C605.34,1015.58 605.74,1012.2 607.2,1007.8 C608.66,1003.4 609.08,1001.12 611.4,996.3 C613.72,991.48 616.28,988.52 618.8,983.7 C621.32,978.88 622.12,976.8 624,972.2 C625.88,967.6 626.32,965.52 628.2,960.7 C630.08,955.88 631.72,951.04 633.4,948.1 C635.08,945.16 634.7,947.04 636.6,946 C638.5,944.96 640.4,942.78 642.9,942.9 C645.4,943.02 646.38,945.14 649.1,946.6 C651.82,948.06 653.56,947.8 656.5,950.2 C659.44,952.6 660.66,955.04 663.8,958.6 C666.94,962.16 668.42,964.36 672.2,968 C675.98,971.64 678.52,973.24 682.7,976.8 C686.88,980.36 689.54,982.96 693.1,985.8 C696.66,988.64 698.18,988.7 700.5,991 C702.82,993.3 701.98,995.2 704.7,997.3 C707.42,999.4 709.7,999.9 714.1,1001.5 C718.5,1003.1 722.52,1003.84 726.7,1005.3 C730.88,1006.76 731.24,1007.38 735,1008.8 C738.76,1010.22 742.34,1012.1 745.5,1012.4 C748.66,1012.7 748.28,1010.38 750.8,1010.3 C753.32,1010.22 755.38,1011.16 758.1,1012 C760.82,1012.84 762.1,1013.88 764.4,1014.5 C766.7,1015.12 768.56,1014.98 769.6,1015.1" fill="none" stroke="#000" stroke-width="1.9" stroke-linejoin="round" stroke-linecap="round"/>
<path d="M797.8,1012.4 C798.44,1012.74 799.86,1014.26 801,1014.1 C802.14,1013.94 802.46,1011.6 803.5,1011.6 C804.54,1011.6 804.94,1012.26 806.2,1014.1 C807.46,1015.94 808.34,1021.22 809.8,1020.8 C811.26,1020.38 811.92,1017.54 813.5,1012 C815.08,1006.46 816.02,1001.48 817.7,993.1 C819.38,984.72 820.44,978.26 821.9,970.1 C823.36,961.94 823.54,958.58 825,952.3 C826.46,946.02 827.72,942.9 829.2,938.7 C830.68,934.5 831.26,934.44 832.4,931.3 C833.54,928.16 833.44,925.3 834.9,923 C836.36,920.7 837.9,920.78 839.7,919.8 C841.5,918.82 842.44,918.4 843.9,918.1 C845.36,917.8 845.54,917.74 847,918.3 C848.46,918.86 849.72,919.96 851.2,920.9 C852.68,921.84 852.92,921.54 854.4,923 C855.88,924.46 856.3,925.7 858.6,928.2 C860.9,930.7 863.18,933.5 865.9,935.5 C868.62,937.5 869.26,936.52 872.2,938.2 C875.14,939.88 877.66,942.14 880.6,943.9 C883.54,945.66 884.18,945.86 886.9,947 C889.62,948.14 891.48,948.42 894.2,949.6 C896.92,950.78 897.98,951.32 900.5,952.9 C903.02,954.48 904.08,956.36 906.8,957.5 C909.52,958.64 910.96,957.54 914.1,958.6 C917.24,959.66 919.56,961.42 922.5,962.8 C925.44,964.18 926.08,964.12 928.8,965.5 C931.52,966.88 933.6,968.48 936.1,969.7 C938.6,970.92 939,970.68 941.3,971.6 C943.6,972.52 945.5,973.26 947.6,974.3 C949.7,975.34 950.12,976.38 951.8,976.8 C953.48,977.22 955.16,976.48 956,976.4" fill="none" stroke="#000" stroke-width="1.9" stroke-linejoin="round" stroke-linecap="round"/>
<polyline points="646.2,855.5 646.2,894 688.4,894" fill="none" stroke="#000" stroke-width="1.6" stroke-linejoin="round" stroke-linecap="butt"/>
<text x="-1.12" y="0" font-size="22" fill="#000" transform="translate(621 841) scale(1 1.04)">60 nM</text>
<text x="-1.68" y="0" font-size="22" fill="#000" transform="translate(646.6 917.7) scale(1 1.04)">15 s</text>
<text x="-1.64" y="0" font-size="24.5" fill="#0000FF" transform="translate(592 699.2) scale(1 1.04)">i</text>
<text x="-1.64" y="0" font-size="24.5" fill="#0000FF" transform="translate(782.7 778.7) scale(1.08 1.04)">ii</text>
<text x="-1.64" y="0" font-size="24.5" fill="#0000FF" transform="translate(589.4 940.8) scale(1.04 1.04)">iii</text>
<text x="-1.64" y="0" font-size="24.5" fill="#0000FF" transform="translate(781 945) scale(1.04 1.04)">iv</text>
<rect x="787.3" y="670.4" width="189.7" height="70.8" fill="none" stroke="#000" stroke-width="1.3"/>
<line x1="882.3" y1="670.4" x2="882.3" y2="741.2" stroke="#000" stroke-width="1.3"/>
<line x1="787.3" y1="694.6" x2="977" y2="694.6" stroke="#000" stroke-width="1.3"/>
<line x1="787.3" y1="718.1" x2="977" y2="718.1" stroke="#000" stroke-width="1.3"/>
<text x="-1.48" y="0" font-size="18" fill="#000" transform="translate(887 689.5) scale(1.05 1.04)">P value</text>
<text x="-1.2" y="0" font-size="18" fill="#000" transform="translate(793 711.2) scale(1.05 1.04)">i vs iv</text>
<text x="-0.7" y="0" font-size="18" fill="#000" transform="translate(886.4 711.2) scale(1.05 1.04)">0.0017</text>
<text x="-1.2" y="0" font-size="18" fill="#000" transform="translate(793 735.6) scale(1.05 1.04)">ii vs iii</text>
<text x="-0.7" y="0" font-size="18" fill="#000" transform="translate(886.4 735.6) scale(1.05 1.04)">0.014</text>
</svg>
</body></html>
